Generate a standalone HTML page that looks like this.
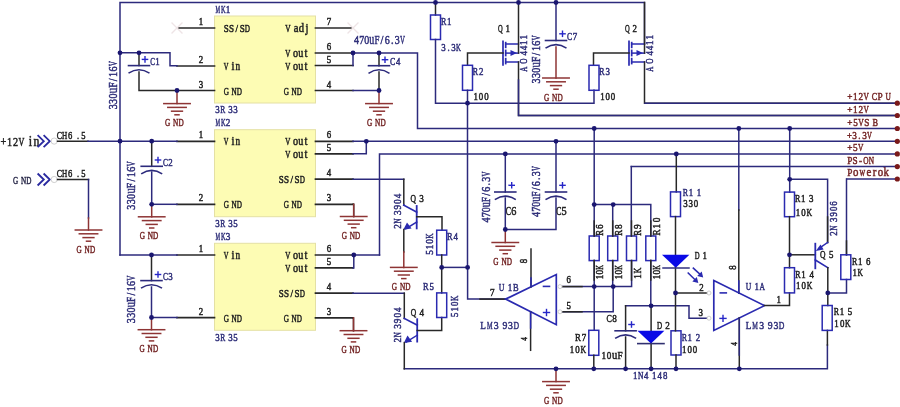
<!DOCTYPE html>
<html><head><meta charset="utf-8"><style>
html,body{margin:0;padding:0;background:#fff;}
body{width:900px;height:407px;overflow:hidden;font-family:"Liberation Serif",serif;}
svg{display:block;will-change:transform;}
</style></head><body>
<svg width="900" height="407" viewBox="0 0 900 407" shape-rendering="geometricPrecision">
<rect x="0" y="0" width="900" height="407" fill="#ffffff"/>
<rect x="214.5" y="16" width="101.0" height="87" fill="#fdfcb4" stroke="#e4e0a4" stroke-width="1"/>
<g transform="translate(214.8,12.5)" font-family="Liberation Serif" fill="#30307a" stroke="#30307a" stroke-width="0.5" text-anchor="middle"><text transform="translate(3.05,0) scale(0.474,1)" font-size="10.92">M</text><text transform="translate(8.45,0) scale(0.584,1)" font-size="10.92">K</text><text transform="translate(13.15,0) scale(0.843,1)" font-size="10.92">1</text></g>
<g transform="translate(215,113.3)" font-family="Liberation Serif" fill="#30307a" stroke="#30307a" stroke-width="0.5" text-anchor="middle"><text transform="translate(2.56,0) scale(0.860,1)" font-size="10.30">3</text><text transform="translate(7.67,0) scale(0.729,1)" font-size="10.30">R</text><text transform="translate(15.33,0) scale(0.860,1)" font-size="10.30">3</text><text transform="translate(20.44,0) scale(0.860,1)" font-size="10.30">3</text></g>
<polyline points="177,28 214.5,28" fill="none" stroke="#282828" stroke-width="1.7" stroke-linejoin="miter" stroke-linecap="square"/>
<g transform="translate(198.5,25)" font-family="Liberation Serif" fill="#222222" stroke="#222222" stroke-width="0.5" text-anchor="middle"><text transform="translate(2.50,0) scale(0.860,1)" font-size="10.30">1</text></g>
<g transform="translate(223.6,32)" font-family="Liberation Serif" fill="#222222" stroke="#222222" stroke-width="0.5" text-anchor="middle"><text transform="translate(2.65,0) scale(0.860,1)" font-size="10.51">S</text><text transform="translate(7.95,0) scale(0.860,1)" font-size="10.51">S</text><text transform="translate(13.25,0) scale(0.860,1)" font-size="10.51">/</text><text transform="translate(18.55,0) scale(0.860,1)" font-size="10.51">S</text><text transform="translate(23.85,0) scale(0.685,1)" font-size="10.51">D</text></g>
<polyline points="177,66 214.5,66" fill="none" stroke="#282828" stroke-width="1.7" stroke-linejoin="miter" stroke-linecap="square"/>
<g transform="translate(198.5,63)" font-family="Liberation Serif" fill="#222222" stroke="#222222" stroke-width="0.5" text-anchor="middle"><text transform="translate(2.50,0) scale(0.860,1)" font-size="10.30">2</text></g>
<g transform="translate(223.6,70)" font-family="Liberation Serif" fill="#222222" stroke="#222222" stroke-width="0.5" text-anchor="middle"><text transform="translate(2.37,0) scale(0.613,1)" font-size="10.51">V</text><text transform="translate(9.49,0) scale(0.860,1)" font-size="12.40">i</text><text transform="translate(14.23,0) scale(0.750,1)" font-size="12.40">n</text></g>
<polyline points="177,90.5 214.5,90.5" fill="none" stroke="#282828" stroke-width="1.7" stroke-linejoin="miter" stroke-linecap="square"/>
<g transform="translate(198.5,87.5)" font-family="Liberation Serif" fill="#222222" stroke="#222222" stroke-width="0.5" text-anchor="middle"><text transform="translate(2.50,0) scale(0.860,1)" font-size="10.30">3</text></g>
<g transform="translate(223.6,94.5)" font-family="Liberation Serif" fill="#222222" stroke="#222222" stroke-width="0.5" text-anchor="middle"><text transform="translate(2.64,0) scale(0.683,1)" font-size="10.51">G</text><text transform="translate(10.57,0) scale(0.683,1)" font-size="10.51">N</text><text transform="translate(15.86,0) scale(0.683,1)" font-size="10.51">D</text></g>
<polyline points="315.5,28 353,28" fill="none" stroke="#282828" stroke-width="1.7" stroke-linejoin="miter" stroke-linecap="square"/>
<g transform="translate(326.5,25)" font-family="Liberation Serif" fill="#222222" stroke="#222222" stroke-width="0.5" text-anchor="middle"><text transform="translate(2.50,0) scale(0.860,1)" font-size="10.30">7</text></g>
<g transform="translate(285.2,32)" font-family="Liberation Serif" fill="#222222" stroke="#222222" stroke-width="0.5" text-anchor="middle"><text transform="translate(2.71,0) scale(0.700,1)" font-size="10.51">V</text><text transform="translate(10.84,0) scale(0.860,1)" font-size="12.40">a</text><text transform="translate(16.27,0) scale(0.857,1)" font-size="12.40">d</text><text transform="translate(21.69,0) scale(0.860,1)" font-size="12.40">j</text></g>
<polyline points="315.5,53 353,53" fill="none" stroke="#282828" stroke-width="1.7" stroke-linejoin="miter" stroke-linecap="square"/>
<g transform="translate(326.5,50)" font-family="Liberation Serif" fill="#222222" stroke="#222222" stroke-width="0.5" text-anchor="middle"><text transform="translate(2.50,0) scale(0.860,1)" font-size="10.30">6</text></g>
<g transform="translate(285.2,57)" font-family="Liberation Serif" fill="#222222" stroke="#222222" stroke-width="0.5" text-anchor="middle"><text transform="translate(2.59,0) scale(0.669,1)" font-size="10.51">V</text><text transform="translate(10.36,0) scale(0.819,1)" font-size="12.40">o</text><text transform="translate(15.53,0) scale(0.819,1)" font-size="12.40">u</text><text transform="translate(20.71,0) scale(0.860,1)" font-size="12.40">t</text></g>
<polyline points="315.5,65.5 353,65.5" fill="none" stroke="#282828" stroke-width="1.7" stroke-linejoin="miter" stroke-linecap="square"/>
<g transform="translate(326.5,62.5)" font-family="Liberation Serif" fill="#222222" stroke="#222222" stroke-width="0.5" text-anchor="middle"><text transform="translate(2.50,0) scale(0.860,1)" font-size="10.30">5</text></g>
<g transform="translate(285.2,69.5)" font-family="Liberation Serif" fill="#222222" stroke="#222222" stroke-width="0.5" text-anchor="middle"><text transform="translate(2.59,0) scale(0.669,1)" font-size="10.51">V</text><text transform="translate(10.36,0) scale(0.819,1)" font-size="12.40">o</text><text transform="translate(15.53,0) scale(0.819,1)" font-size="12.40">u</text><text transform="translate(20.71,0) scale(0.860,1)" font-size="12.40">t</text></g>
<polyline points="315.5,90.5 353,90.5" fill="none" stroke="#282828" stroke-width="1.7" stroke-linejoin="miter" stroke-linecap="square"/>
<g transform="translate(326.5,87.5)" font-family="Liberation Serif" fill="#222222" stroke="#222222" stroke-width="0.5" text-anchor="middle"><text transform="translate(2.50,0) scale(0.860,1)" font-size="10.30">4</text></g>
<g transform="translate(283.6,94.5)" font-family="Liberation Serif" fill="#222222" stroke="#222222" stroke-width="0.5" text-anchor="middle"><text transform="translate(2.64,0) scale(0.683,1)" font-size="10.51">G</text><text transform="translate(10.57,0) scale(0.683,1)" font-size="10.51">N</text><text transform="translate(15.86,0) scale(0.683,1)" font-size="10.51">D</text></g>
<rect x="214.5" y="129.7" width="101.0" height="87.0" fill="#fdfcb4" stroke="#e4e0a4" stroke-width="1"/>
<g transform="translate(214.8,126.19999999999999)" font-family="Liberation Serif" fill="#30307a" stroke="#30307a" stroke-width="0.5" text-anchor="middle"><text transform="translate(3.05,0) scale(0.474,1)" font-size="10.92">M</text><text transform="translate(8.45,0) scale(0.584,1)" font-size="10.92">K</text><text transform="translate(13.15,0) scale(0.843,1)" font-size="10.92">2</text></g>
<g transform="translate(215,227.0)" font-family="Liberation Serif" fill="#30307a" stroke="#30307a" stroke-width="0.5" text-anchor="middle"><text transform="translate(2.56,0) scale(0.860,1)" font-size="10.30">3</text><text transform="translate(7.67,0) scale(0.729,1)" font-size="10.30">R</text><text transform="translate(15.33,0) scale(0.860,1)" font-size="10.30">3</text><text transform="translate(20.44,0) scale(0.860,1)" font-size="10.30">5</text></g>
<polyline points="177,141.29999999999998 214.5,141.29999999999998" fill="none" stroke="#282828" stroke-width="1.7" stroke-linejoin="miter" stroke-linecap="square"/>
<g transform="translate(198.5,138.29999999999998)" font-family="Liberation Serif" fill="#222222" stroke="#222222" stroke-width="0.5" text-anchor="middle"><text transform="translate(2.50,0) scale(0.860,1)" font-size="10.30">1</text></g>
<g transform="translate(223.6,145.29999999999998)" font-family="Liberation Serif" fill="#222222" stroke="#222222" stroke-width="0.5" text-anchor="middle"><text transform="translate(2.37,0) scale(0.613,1)" font-size="10.51">V</text><text transform="translate(9.49,0) scale(0.860,1)" font-size="12.40">i</text><text transform="translate(14.23,0) scale(0.750,1)" font-size="12.40">n</text></g>
<polyline points="177,204.29999999999998 214.5,204.29999999999998" fill="none" stroke="#282828" stroke-width="1.7" stroke-linejoin="miter" stroke-linecap="square"/>
<g transform="translate(198.5,201.29999999999998)" font-family="Liberation Serif" fill="#222222" stroke="#222222" stroke-width="0.5" text-anchor="middle"><text transform="translate(2.50,0) scale(0.860,1)" font-size="10.30">2</text></g>
<g transform="translate(223.6,208.29999999999998)" font-family="Liberation Serif" fill="#222222" stroke="#222222" stroke-width="0.5" text-anchor="middle"><text transform="translate(2.64,0) scale(0.683,1)" font-size="10.51">G</text><text transform="translate(10.57,0) scale(0.683,1)" font-size="10.51">N</text><text transform="translate(15.86,0) scale(0.683,1)" font-size="10.51">D</text></g>
<polyline points="315.5,141.29999999999998 353,141.29999999999998" fill="none" stroke="#282828" stroke-width="1.7" stroke-linejoin="miter" stroke-linecap="square"/>
<g transform="translate(326.5,138.29999999999998)" font-family="Liberation Serif" fill="#222222" stroke="#222222" stroke-width="0.5" text-anchor="middle"><text transform="translate(2.50,0) scale(0.860,1)" font-size="10.30">6</text></g>
<g transform="translate(285.2,145.29999999999998)" font-family="Liberation Serif" fill="#222222" stroke="#222222" stroke-width="0.5" text-anchor="middle"><text transform="translate(2.59,0) scale(0.669,1)" font-size="10.51">V</text><text transform="translate(10.36,0) scale(0.819,1)" font-size="12.40">o</text><text transform="translate(15.53,0) scale(0.819,1)" font-size="12.40">u</text><text transform="translate(20.71,0) scale(0.860,1)" font-size="12.40">t</text></g>
<polyline points="315.5,153.79999999999998 353,153.79999999999998" fill="none" stroke="#282828" stroke-width="1.7" stroke-linejoin="miter" stroke-linecap="square"/>
<g transform="translate(326.5,150.79999999999998)" font-family="Liberation Serif" fill="#222222" stroke="#222222" stroke-width="0.5" text-anchor="middle"><text transform="translate(2.50,0) scale(0.860,1)" font-size="10.30">5</text></g>
<g transform="translate(285.2,157.79999999999998)" font-family="Liberation Serif" fill="#222222" stroke="#222222" stroke-width="0.5" text-anchor="middle"><text transform="translate(2.59,0) scale(0.669,1)" font-size="10.51">V</text><text transform="translate(10.36,0) scale(0.819,1)" font-size="12.40">o</text><text transform="translate(15.53,0) scale(0.819,1)" font-size="12.40">u</text><text transform="translate(20.71,0) scale(0.860,1)" font-size="12.40">t</text></g>
<polyline points="315.5,179.2 353,179.2" fill="none" stroke="#282828" stroke-width="1.7" stroke-linejoin="miter" stroke-linecap="square"/>
<g transform="translate(326.5,176.2)" font-family="Liberation Serif" fill="#222222" stroke="#222222" stroke-width="0.5" text-anchor="middle"><text transform="translate(2.50,0) scale(0.860,1)" font-size="10.30">4</text></g>
<g transform="translate(278.5,183.2)" font-family="Liberation Serif" fill="#222222" stroke="#222222" stroke-width="0.5" text-anchor="middle"><text transform="translate(2.65,0) scale(0.860,1)" font-size="10.51">S</text><text transform="translate(7.95,0) scale(0.860,1)" font-size="10.51">S</text><text transform="translate(13.25,0) scale(0.860,1)" font-size="10.51">/</text><text transform="translate(18.55,0) scale(0.860,1)" font-size="10.51">S</text><text transform="translate(23.85,0) scale(0.685,1)" font-size="10.51">D</text></g>
<polyline points="315.5,204.29999999999998 353,204.29999999999998" fill="none" stroke="#282828" stroke-width="1.7" stroke-linejoin="miter" stroke-linecap="square"/>
<g transform="translate(326.5,201.29999999999998)" font-family="Liberation Serif" fill="#222222" stroke="#222222" stroke-width="0.5" text-anchor="middle"><text transform="translate(2.50,0) scale(0.860,1)" font-size="10.30">3</text></g>
<g transform="translate(283.6,208.29999999999998)" font-family="Liberation Serif" fill="#222222" stroke="#222222" stroke-width="0.5" text-anchor="middle"><text transform="translate(2.64,0) scale(0.683,1)" font-size="10.51">G</text><text transform="translate(10.57,0) scale(0.683,1)" font-size="10.51">N</text><text transform="translate(15.86,0) scale(0.683,1)" font-size="10.51">D</text></g>
<rect x="214.5" y="243.3" width="101.0" height="87.0" fill="#fdfcb4" stroke="#e4e0a4" stroke-width="1"/>
<g transform="translate(214.8,239.8)" font-family="Liberation Serif" fill="#30307a" stroke="#30307a" stroke-width="0.5" text-anchor="middle"><text transform="translate(3.05,0) scale(0.474,1)" font-size="10.92">M</text><text transform="translate(8.45,0) scale(0.584,1)" font-size="10.92">K</text><text transform="translate(13.15,0) scale(0.843,1)" font-size="10.92">3</text></g>
<g transform="translate(215,340.6)" font-family="Liberation Serif" fill="#30307a" stroke="#30307a" stroke-width="0.5" text-anchor="middle"><text transform="translate(2.56,0) scale(0.860,1)" font-size="10.30">3</text><text transform="translate(7.67,0) scale(0.729,1)" font-size="10.30">R</text><text transform="translate(15.33,0) scale(0.860,1)" font-size="10.30">3</text><text transform="translate(20.44,0) scale(0.860,1)" font-size="10.30">5</text></g>
<polyline points="177,255.0 214.5,255.0" fill="none" stroke="#282828" stroke-width="1.7" stroke-linejoin="miter" stroke-linecap="square"/>
<g transform="translate(198.5,252.0)" font-family="Liberation Serif" fill="#222222" stroke="#222222" stroke-width="0.5" text-anchor="middle"><text transform="translate(2.50,0) scale(0.860,1)" font-size="10.30">1</text></g>
<g transform="translate(223.6,259.0)" font-family="Liberation Serif" fill="#222222" stroke="#222222" stroke-width="0.5" text-anchor="middle"><text transform="translate(2.37,0) scale(0.613,1)" font-size="10.51">V</text><text transform="translate(9.49,0) scale(0.860,1)" font-size="12.40">i</text><text transform="translate(14.23,0) scale(0.750,1)" font-size="12.40">n</text></g>
<polyline points="177,317.70000000000005 214.5,317.70000000000005" fill="none" stroke="#282828" stroke-width="1.7" stroke-linejoin="miter" stroke-linecap="square"/>
<g transform="translate(198.5,314.70000000000005)" font-family="Liberation Serif" fill="#222222" stroke="#222222" stroke-width="0.5" text-anchor="middle"><text transform="translate(2.50,0) scale(0.860,1)" font-size="10.30">2</text></g>
<g transform="translate(223.6,321.70000000000005)" font-family="Liberation Serif" fill="#222222" stroke="#222222" stroke-width="0.5" text-anchor="middle"><text transform="translate(2.64,0) scale(0.683,1)" font-size="10.51">G</text><text transform="translate(10.57,0) scale(0.683,1)" font-size="10.51">N</text><text transform="translate(15.86,0) scale(0.683,1)" font-size="10.51">D</text></g>
<polyline points="315.5,255.0 353,255.0" fill="none" stroke="#282828" stroke-width="1.7" stroke-linejoin="miter" stroke-linecap="square"/>
<g transform="translate(326.5,252.0)" font-family="Liberation Serif" fill="#222222" stroke="#222222" stroke-width="0.5" text-anchor="middle"><text transform="translate(2.50,0) scale(0.860,1)" font-size="10.30">6</text></g>
<g transform="translate(285.2,259.0)" font-family="Liberation Serif" fill="#222222" stroke="#222222" stroke-width="0.5" text-anchor="middle"><text transform="translate(2.59,0) scale(0.669,1)" font-size="10.51">V</text><text transform="translate(10.36,0) scale(0.819,1)" font-size="12.40">o</text><text transform="translate(15.53,0) scale(0.819,1)" font-size="12.40">u</text><text transform="translate(20.71,0) scale(0.860,1)" font-size="12.40">t</text></g>
<polyline points="315.5,267.8 353,267.8" fill="none" stroke="#282828" stroke-width="1.7" stroke-linejoin="miter" stroke-linecap="square"/>
<g transform="translate(326.5,264.8)" font-family="Liberation Serif" fill="#222222" stroke="#222222" stroke-width="0.5" text-anchor="middle"><text transform="translate(2.50,0) scale(0.860,1)" font-size="10.30">5</text></g>
<g transform="translate(285.2,271.8)" font-family="Liberation Serif" fill="#222222" stroke="#222222" stroke-width="0.5" text-anchor="middle"><text transform="translate(2.59,0) scale(0.669,1)" font-size="10.51">V</text><text transform="translate(10.36,0) scale(0.819,1)" font-size="12.40">o</text><text transform="translate(15.53,0) scale(0.819,1)" font-size="12.40">u</text><text transform="translate(20.71,0) scale(0.860,1)" font-size="12.40">t</text></g>
<polyline points="315.5,293.1 353,293.1" fill="none" stroke="#282828" stroke-width="1.7" stroke-linejoin="miter" stroke-linecap="square"/>
<g transform="translate(326.5,290.1)" font-family="Liberation Serif" fill="#222222" stroke="#222222" stroke-width="0.5" text-anchor="middle"><text transform="translate(2.50,0) scale(0.860,1)" font-size="10.30">4</text></g>
<g transform="translate(278.5,297.1)" font-family="Liberation Serif" fill="#222222" stroke="#222222" stroke-width="0.5" text-anchor="middle"><text transform="translate(2.65,0) scale(0.860,1)" font-size="10.51">S</text><text transform="translate(7.95,0) scale(0.860,1)" font-size="10.51">S</text><text transform="translate(13.25,0) scale(0.860,1)" font-size="10.51">/</text><text transform="translate(18.55,0) scale(0.860,1)" font-size="10.51">S</text><text transform="translate(23.85,0) scale(0.685,1)" font-size="10.51">D</text></g>
<polyline points="315.5,317.9 353,317.9" fill="none" stroke="#282828" stroke-width="1.7" stroke-linejoin="miter" stroke-linecap="square"/>
<g transform="translate(326.5,314.9)" font-family="Liberation Serif" fill="#222222" stroke="#222222" stroke-width="0.5" text-anchor="middle"><text transform="translate(2.50,0) scale(0.860,1)" font-size="10.30">3</text></g>
<g transform="translate(283.6,321.9)" font-family="Liberation Serif" fill="#222222" stroke="#222222" stroke-width="0.5" text-anchor="middle"><text transform="translate(2.64,0) scale(0.683,1)" font-size="10.51">G</text><text transform="translate(10.57,0) scale(0.683,1)" font-size="10.51">N</text><text transform="translate(15.86,0) scale(0.683,1)" font-size="10.51">D</text></g>
<polyline points="172,23 182,33" fill="none" stroke="#eee4e6" stroke-width="1.3" stroke-linejoin="miter" stroke-linecap="square"/>
<polyline points="172,33 182,23" fill="none" stroke="#eee4e6" stroke-width="1.3" stroke-linejoin="miter" stroke-linecap="square"/>
<polyline points="348,23 358,33" fill="none" stroke="#eee4e6" stroke-width="1.3" stroke-linejoin="miter" stroke-linecap="square"/>
<polyline points="348,33 358,23" fill="none" stroke="#eee4e6" stroke-width="1.3" stroke-linejoin="miter" stroke-linecap="square"/>
<polyline points="120,255 120,2.5 644.5,2.5 644.5,44" fill="none" stroke="#2c2a7c" stroke-width="1.5" stroke-linejoin="miter" stroke-linecap="square"/>
<polyline points="120,52.8 170,52.8 170,65.8 177,65.8" fill="none" stroke="#2c2a7c" stroke-width="1.5" stroke-linejoin="miter" stroke-linecap="square"/>
<polyline points="139,52.8 139,65.6" fill="none" stroke="#282828" stroke-width="1.5" stroke-linejoin="miter" stroke-linecap="square"/>
<polyline points="128.5,65.6 149.5,65.6" fill="none" stroke="#2c2a7c" stroke-width="1.6" stroke-linejoin="miter" stroke-linecap="square"/>
<path d="M128.5,73.19999999999999 Q139,66.19999999999999 149.5,73.19999999999999" fill="none" stroke="#2c2a7c" stroke-width="1.6"/>
<polyline points="139,72 139,90.5 177,90.5" fill="none" stroke="#282828" stroke-width="1.5" stroke-linejoin="miter" stroke-linecap="square"/>
<polyline points="177,90.5 177,103.6" fill="none" stroke="#8e3434" stroke-width="1.5" stroke-linejoin="miter" stroke-linecap="square"/>
<polyline points="163.8,103.6 190.2,103.6" fill="none" stroke="#8e3434" stroke-width="1.5" stroke-linejoin="miter" stroke-linecap="square"/>
<polyline points="167.8,107.39999999999999 186.2,107.39999999999999" fill="none" stroke="#8e3434" stroke-width="1.5" stroke-linejoin="miter" stroke-linecap="square"/>
<polyline points="171.6,111.19999999999999 182.4,111.19999999999999" fill="none" stroke="#8e3434" stroke-width="1.5" stroke-linejoin="miter" stroke-linecap="square"/>
<polyline points="175,114.8 179,114.8" fill="none" stroke="#8e3434" stroke-width="1.5" stroke-linejoin="miter" stroke-linecap="square"/>
<g transform="translate(165,126.19999999999999)" font-family="Liberation Serif" fill="#742626" stroke="#742626" stroke-width="0.5" text-anchor="middle"><text transform="translate(2.67,0) scale(0.690,1)" font-size="10.51">G</text><text transform="translate(10.69,0) scale(0.690,1)" font-size="10.51">N</text><text transform="translate(16.03,0) scale(0.690,1)" font-size="10.51">D</text></g>
<polyline points="142.4,59.4 147.6,59.4" fill="none" stroke="#2626c8" stroke-width="1.4" stroke-linejoin="miter" stroke-linecap="square"/>
<polyline points="145,56.8 145,62.0" fill="none" stroke="#2626c8" stroke-width="1.4" stroke-linejoin="miter" stroke-linecap="square"/>
<g transform="translate(150.3,65)" font-family="Liberation Serif" fill="#30307a" stroke="#30307a" stroke-width="0.5" text-anchor="middle"><text transform="translate(2.40,0) scale(0.685,1)" font-size="10.30">C</text><text transform="translate(7.20,0) scale(0.860,1)" font-size="10.30">1</text></g>
<g transform="translate(117.2,109.5) rotate(-90)" font-family="Liberation Serif" fill="#30307a" stroke="#30307a" stroke-width="0.5" text-anchor="middle"><text transform="translate(2.70,0) scale(0.860,1)" font-size="11.74">3</text><text transform="translate(8.10,0) scale(0.860,1)" font-size="11.74">3</text><text transform="translate(13.50,0) scale(0.860,1)" font-size="11.74">0</text><text transform="translate(18.90,0) scale(0.764,1)" font-size="13.86">u</text><text transform="translate(24.30,0) scale(0.810,1)" font-size="11.74">F</text><text transform="translate(29.70,0) scale(0.860,1)" font-size="11.74">/</text><text transform="translate(35.10,0) scale(0.860,1)" font-size="11.74">1</text><text transform="translate(40.50,0) scale(0.860,1)" font-size="11.74">6</text><text transform="translate(45.90,0) scale(0.624,1)" font-size="11.74">V</text></g>
<polyline points="353,53 353,65.5" fill="none" stroke="#2c2a7c" stroke-width="1.5" stroke-linejoin="miter" stroke-linecap="square"/>
<polyline points="353,53 417.5,53 417.5,128.5 897,128.5" fill="none" stroke="#2c2a7c" stroke-width="1.5" stroke-linejoin="miter" stroke-linecap="square"/>
<polyline points="379,53 379,65.7" fill="none" stroke="#282828" stroke-width="1.5" stroke-linejoin="miter" stroke-linecap="square"/>
<polyline points="368.5,65.7 389.5,65.7" fill="none" stroke="#2c2a7c" stroke-width="1.6" stroke-linejoin="miter" stroke-linecap="square"/>
<path d="M368.5,73.3 Q379,66.3 389.5,73.3" fill="none" stroke="#2c2a7c" stroke-width="1.6"/>
<polyline points="379,72 379,90.9" fill="none" stroke="#282828" stroke-width="1.5" stroke-linejoin="miter" stroke-linecap="square"/>
<polyline points="353,90.5 379,90.5" fill="none" stroke="#2c2a7c" stroke-width="1.5" stroke-linejoin="miter" stroke-linecap="square"/>
<polyline points="379,90.5 379,103.6" fill="none" stroke="#8e3434" stroke-width="1.5" stroke-linejoin="miter" stroke-linecap="square"/>
<polyline points="365.8,103.6 392.2,103.6" fill="none" stroke="#8e3434" stroke-width="1.5" stroke-linejoin="miter" stroke-linecap="square"/>
<polyline points="369.8,107.39999999999999 388.2,107.39999999999999" fill="none" stroke="#8e3434" stroke-width="1.5" stroke-linejoin="miter" stroke-linecap="square"/>
<polyline points="373.6,111.19999999999999 384.4,111.19999999999999" fill="none" stroke="#8e3434" stroke-width="1.5" stroke-linejoin="miter" stroke-linecap="square"/>
<polyline points="377,114.8 381,114.8" fill="none" stroke="#8e3434" stroke-width="1.5" stroke-linejoin="miter" stroke-linecap="square"/>
<g transform="translate(367,126.19999999999999)" font-family="Liberation Serif" fill="#742626" stroke="#742626" stroke-width="0.5" text-anchor="middle"><text transform="translate(2.67,0) scale(0.690,1)" font-size="10.51">G</text><text transform="translate(10.69,0) scale(0.690,1)" font-size="10.51">N</text><text transform="translate(16.03,0) scale(0.690,1)" font-size="10.51">D</text></g>
<polyline points="382.4,59.7 387.6,59.7" fill="none" stroke="#2626c8" stroke-width="1.4" stroke-linejoin="miter" stroke-linecap="square"/>
<polyline points="385,57.1 385,62.300000000000004" fill="none" stroke="#2626c8" stroke-width="1.4" stroke-linejoin="miter" stroke-linecap="square"/>
<g transform="translate(390,65.3)" font-family="Liberation Serif" fill="#30307a" stroke="#30307a" stroke-width="0.5" text-anchor="middle"><text transform="translate(2.70,0) scale(0.770,1)" font-size="10.30">C</text><text transform="translate(8.10,0) scale(0.860,1)" font-size="10.30">4</text></g>
<g transform="translate(354,43.6)" font-family="Liberation Serif" fill="#30307a" stroke="#30307a" stroke-width="0.5" text-anchor="middle"><text transform="translate(2.55,0) scale(0.822,1)" font-size="12.15">4</text><text transform="translate(7.65,0) scale(0.822,1)" font-size="12.15">7</text><text transform="translate(12.75,0) scale(0.822,1)" font-size="12.15">0</text><text transform="translate(17.85,0) scale(0.697,1)" font-size="14.34">u</text><text transform="translate(22.95,0) scale(0.739,1)" font-size="12.15">F</text><text transform="translate(28.05,0) scale(0.860,1)" font-size="12.15">/</text><text transform="translate(33.15,0) scale(0.822,1)" font-size="12.15">6</text><text transform="translate(38.25,0) scale(0.860,1)" font-size="12.15">.</text><text transform="translate(43.35,0) scale(0.822,1)" font-size="12.15">3</text><text transform="translate(48.45,0) scale(0.569,1)" font-size="12.15">V</text></g>
<g transform="translate(0.5,145.6)" font-family="Liberation Serif" fill="#222222" stroke="#222222" stroke-width="0.5" text-anchor="middle"><text transform="translate(2.99,0) scale(0.860,1)" font-size="11.85">+</text><text transform="translate(8.98,0) scale(0.860,1)" font-size="11.85">1</text><text transform="translate(14.96,0) scale(0.860,1)" font-size="11.85">2</text><text transform="translate(20.95,0) scale(0.686,1)" font-size="11.85">V</text><text transform="translate(29.92,0) scale(0.860,1)" font-size="13.98">i</text><text transform="translate(35.91,0) scale(0.839,1)" font-size="13.98">n</text></g>
<polyline points="37.6,135.2 43.8,141.2 37.6,147.2" fill="none" stroke="#2a2aa0" stroke-width="1.8" stroke-linejoin="miter" stroke-linecap="butt"/>
<polyline points="43.6,135.2 49.8,141.2 43.6,147.2" fill="none" stroke="#2a2aa0" stroke-width="1.8" stroke-linejoin="miter" stroke-linecap="butt"/>
<circle cx="54.2" cy="141.1" r="3.1" fill="#fff" stroke="#d0d0d0" stroke-width="1"/>
<g transform="translate(56.7,139.1)" font-family="Liberation Serif" fill="#222222" stroke="#222222" stroke-width="0.5" text-anchor="middle"><text transform="translate(2.67,0) scale(0.794,1)" font-size="9.89">C</text><text transform="translate(8.02,0) scale(0.734,1)" font-size="9.89">H</text><text transform="translate(13.36,0) scale(0.860,1)" font-size="9.89">6</text><text transform="translate(21.38,0) scale(0.860,1)" font-size="9.89">.</text><text transform="translate(26.73,0) scale(0.860,1)" font-size="9.89">5</text></g>
<polyline points="57.5,141.2 88,141.2" fill="none" stroke="#282828" stroke-width="1.5" stroke-linejoin="miter" stroke-linecap="square"/>
<polyline points="88,141.2 177,141.2" fill="none" stroke="#2c2a7c" stroke-width="1.5" stroke-linejoin="miter" stroke-linecap="square"/>
<g transform="translate(13,183.7)" font-family="Liberation Serif" fill="#2a2a4a" stroke="#2a2a4a" stroke-width="0.5" text-anchor="middle"><text transform="translate(2.63,0) scale(0.653,1)" font-size="10.92">G</text><text transform="translate(10.51,0) scale(0.653,1)" font-size="10.92">N</text><text transform="translate(15.77,0) scale(0.653,1)" font-size="10.92">D</text></g>
<polyline points="37.6,173.5 43.8,179.5 37.6,185.5" fill="none" stroke="#2a2aa0" stroke-width="1.8" stroke-linejoin="miter" stroke-linecap="butt"/>
<polyline points="43.6,173.5 49.8,179.5 43.6,185.5" fill="none" stroke="#2a2aa0" stroke-width="1.8" stroke-linejoin="miter" stroke-linecap="butt"/>
<circle cx="54.2" cy="179.5" r="3.1" fill="#fff" stroke="#d0d0d0" stroke-width="1"/>
<g transform="translate(56.7,176.6)" font-family="Liberation Serif" fill="#222222" stroke="#222222" stroke-width="0.5" text-anchor="middle"><text transform="translate(2.67,0) scale(0.794,1)" font-size="9.89">C</text><text transform="translate(8.02,0) scale(0.734,1)" font-size="9.89">H</text><text transform="translate(13.36,0) scale(0.860,1)" font-size="9.89">6</text><text transform="translate(21.38,0) scale(0.860,1)" font-size="9.89">.</text><text transform="translate(26.73,0) scale(0.860,1)" font-size="9.89">5</text></g>
<polyline points="57.5,179.5 88.5,179.5" fill="none" stroke="#282828" stroke-width="1.5" stroke-linejoin="miter" stroke-linecap="square"/>
<polyline points="88.5,179.5 88.5,218" fill="none" stroke="#2c2a7c" stroke-width="1.5" stroke-linejoin="miter" stroke-linecap="square"/>
<polyline points="88.5,218 88.5,230" fill="none" stroke="#8e3434" stroke-width="1.5" stroke-linejoin="miter" stroke-linecap="square"/>
<polyline points="75.3,230 101.7,230" fill="none" stroke="#8e3434" stroke-width="1.5" stroke-linejoin="miter" stroke-linecap="square"/>
<polyline points="79.3,233.8 97.7,233.8" fill="none" stroke="#8e3434" stroke-width="1.5" stroke-linejoin="miter" stroke-linecap="square"/>
<polyline points="83.1,237.6 93.9,237.6" fill="none" stroke="#8e3434" stroke-width="1.5" stroke-linejoin="miter" stroke-linecap="square"/>
<polyline points="86.5,241.2 90.5,241.2" fill="none" stroke="#8e3434" stroke-width="1.5" stroke-linejoin="miter" stroke-linecap="square"/>
<g transform="translate(76.5,252.6)" font-family="Liberation Serif" fill="#742626" stroke="#742626" stroke-width="0.5" text-anchor="middle"><text transform="translate(2.67,0) scale(0.690,1)" font-size="10.51">G</text><text transform="translate(10.69,0) scale(0.690,1)" font-size="10.51">N</text><text transform="translate(16.03,0) scale(0.690,1)" font-size="10.51">D</text></g>
<polyline points="151.7,141.2 151.7,166.3" fill="none" stroke="#282828" stroke-width="1.5" stroke-linejoin="miter" stroke-linecap="square"/>
<polyline points="141.2,166.3 162.2,166.3" fill="none" stroke="#2c2a7c" stroke-width="1.6" stroke-linejoin="miter" stroke-linecap="square"/>
<path d="M141.2,173.9 Q151.7,166.9 162.2,173.9" fill="none" stroke="#2c2a7c" stroke-width="1.6"/>
<polyline points="151.7,172 151.7,204.3" fill="none" stroke="#2c2a7c" stroke-width="1.5" stroke-linejoin="miter" stroke-linecap="square"/>
<polyline points="151.7,204.3 177,204.3" fill="none" stroke="#2c2a7c" stroke-width="1.5" stroke-linejoin="miter" stroke-linecap="square"/>
<polyline points="151.7,204.3 151.7,216.8" fill="none" stroke="#8e3434" stroke-width="1.5" stroke-linejoin="miter" stroke-linecap="square"/>
<polyline points="138.5,216.8 164.89999999999998,216.8" fill="none" stroke="#8e3434" stroke-width="1.5" stroke-linejoin="miter" stroke-linecap="square"/>
<polyline points="142.5,220.60000000000002 160.89999999999998,220.60000000000002" fill="none" stroke="#8e3434" stroke-width="1.5" stroke-linejoin="miter" stroke-linecap="square"/>
<polyline points="146.29999999999998,224.4 157.1,224.4" fill="none" stroke="#8e3434" stroke-width="1.5" stroke-linejoin="miter" stroke-linecap="square"/>
<polyline points="149.7,228.0 153.7,228.0" fill="none" stroke="#8e3434" stroke-width="1.5" stroke-linejoin="miter" stroke-linecap="square"/>
<g transform="translate(139.7,239.4)" font-family="Liberation Serif" fill="#742626" stroke="#742626" stroke-width="0.5" text-anchor="middle"><text transform="translate(2.67,0) scale(0.690,1)" font-size="10.51">G</text><text transform="translate(10.69,0) scale(0.690,1)" font-size="10.51">N</text><text transform="translate(16.03,0) scale(0.690,1)" font-size="10.51">D</text></g>
<polyline points="155.4,160 160.6,160" fill="none" stroke="#2626c8" stroke-width="1.4" stroke-linejoin="miter" stroke-linecap="square"/>
<polyline points="158,157.4 158,162.6" fill="none" stroke="#2626c8" stroke-width="1.4" stroke-linejoin="miter" stroke-linecap="square"/>
<g transform="translate(163,166)" font-family="Liberation Serif" fill="#30307a" stroke="#30307a" stroke-width="0.5" text-anchor="middle"><text transform="translate(2.50,0) scale(0.713,1)" font-size="10.30">C</text><text transform="translate(7.50,0) scale(0.860,1)" font-size="10.30">2</text></g>
<g transform="translate(135.2,209.9) rotate(-90)" font-family="Liberation Serif" fill="#30307a" stroke="#30307a" stroke-width="0.5" text-anchor="middle"><text transform="translate(2.71,0) scale(0.860,1)" font-size="11.74">3</text><text transform="translate(8.12,0) scale(0.860,1)" font-size="11.74">3</text><text transform="translate(13.53,0) scale(0.860,1)" font-size="11.74">0</text><text transform="translate(18.94,0) scale(0.765,1)" font-size="13.86">u</text><text transform="translate(24.35,0) scale(0.812,1)" font-size="11.74">F</text><text transform="translate(29.76,0) scale(0.860,1)" font-size="11.74">/</text><text transform="translate(35.17,0) scale(0.860,1)" font-size="11.74">1</text><text transform="translate(40.58,0) scale(0.860,1)" font-size="11.74">6</text><text transform="translate(45.99,0) scale(0.625,1)" font-size="11.74">V</text></g>
<polyline points="120,255 177,255" fill="none" stroke="#2c2a7c" stroke-width="1.5" stroke-linejoin="miter" stroke-linecap="square"/>
<polyline points="151.5,255 151.5,280.6" fill="none" stroke="#282828" stroke-width="1.5" stroke-linejoin="miter" stroke-linecap="square"/>
<polyline points="141.0,280.6 162.0,280.6" fill="none" stroke="#2c2a7c" stroke-width="1.6" stroke-linejoin="miter" stroke-linecap="square"/>
<path d="M141.0,288.20000000000005 Q151.5,281.20000000000005 162.0,288.20000000000005" fill="none" stroke="#2c2a7c" stroke-width="1.6"/>
<polyline points="151.5,287 151.5,317.5" fill="none" stroke="#2c2a7c" stroke-width="1.5" stroke-linejoin="miter" stroke-linecap="square"/>
<polyline points="151.5,317.5 177,317.5" fill="none" stroke="#2c2a7c" stroke-width="1.5" stroke-linejoin="miter" stroke-linecap="square"/>
<polyline points="151.5,317.5 151.5,329.7" fill="none" stroke="#8e3434" stroke-width="1.5" stroke-linejoin="miter" stroke-linecap="square"/>
<polyline points="138.3,329.7 164.7,329.7" fill="none" stroke="#8e3434" stroke-width="1.5" stroke-linejoin="miter" stroke-linecap="square"/>
<polyline points="142.3,333.5 160.7,333.5" fill="none" stroke="#8e3434" stroke-width="1.5" stroke-linejoin="miter" stroke-linecap="square"/>
<polyline points="146.1,337.3 156.9,337.3" fill="none" stroke="#8e3434" stroke-width="1.5" stroke-linejoin="miter" stroke-linecap="square"/>
<polyline points="149.5,340.9 153.5,340.9" fill="none" stroke="#8e3434" stroke-width="1.5" stroke-linejoin="miter" stroke-linecap="square"/>
<g transform="translate(139.5,352.3)" font-family="Liberation Serif" fill="#742626" stroke="#742626" stroke-width="0.5" text-anchor="middle"><text transform="translate(2.67,0) scale(0.690,1)" font-size="10.51">G</text><text transform="translate(10.69,0) scale(0.690,1)" font-size="10.51">N</text><text transform="translate(16.03,0) scale(0.690,1)" font-size="10.51">D</text></g>
<polyline points="155.4,274.5 160.6,274.5" fill="none" stroke="#2626c8" stroke-width="1.4" stroke-linejoin="miter" stroke-linecap="square"/>
<polyline points="158,271.9 158,277.1" fill="none" stroke="#2626c8" stroke-width="1.4" stroke-linejoin="miter" stroke-linecap="square"/>
<g transform="translate(163,280)" font-family="Liberation Serif" fill="#30307a" stroke="#30307a" stroke-width="0.5" text-anchor="middle"><text transform="translate(2.50,0) scale(0.713,1)" font-size="10.30">C</text><text transform="translate(7.50,0) scale(0.860,1)" font-size="10.30">3</text></g>
<g transform="translate(135.2,323.3) rotate(-90)" font-family="Liberation Serif" fill="#30307a" stroke="#30307a" stroke-width="0.5" text-anchor="middle"><text transform="translate(2.66,0) scale(0.860,1)" font-size="11.74">3</text><text transform="translate(7.98,0) scale(0.860,1)" font-size="11.74">3</text><text transform="translate(13.31,0) scale(0.860,1)" font-size="11.74">0</text><text transform="translate(18.63,0) scale(0.753,1)" font-size="13.86">u</text><text transform="translate(23.95,0) scale(0.799,1)" font-size="11.74">F</text><text transform="translate(29.27,0) scale(0.860,1)" font-size="11.74">/</text><text transform="translate(34.59,0) scale(0.860,1)" font-size="11.74">1</text><text transform="translate(39.92,0) scale(0.860,1)" font-size="11.74">6</text><text transform="translate(45.24,0) scale(0.615,1)" font-size="11.74">V</text></g>
<polyline points="353,141.3 897,141.3" fill="none" stroke="#2c2a7c" stroke-width="1.5" stroke-linejoin="miter" stroke-linecap="square"/>
<polyline points="353,153.8 366.3,153.8 366.3,141.3" fill="none" stroke="#2c2a7c" stroke-width="1.5" stroke-linejoin="miter" stroke-linecap="square"/>
<polyline points="379.5,255 379.5,153.9 897,153.9" fill="none" stroke="#2c2a7c" stroke-width="1.5" stroke-linejoin="miter" stroke-linecap="square"/>
<polyline points="353,179.3 403.8,179.3" fill="none" stroke="#2c2a7c" stroke-width="1.5" stroke-linejoin="miter" stroke-linecap="square"/>
<polyline points="403.8,179.3 403.8,205.2" fill="none" stroke="#282828" stroke-width="1.5" stroke-linejoin="miter" stroke-linecap="square"/>
<polyline points="353,204.3 353.7,204.3 353.7,216.5" fill="none" stroke="#282828" stroke-width="1.5" stroke-linejoin="miter" stroke-linecap="square"/>
<polyline points="353.7,204.3 353.7,216.5" fill="none" stroke="#8e3434" stroke-width="1.5" stroke-linejoin="miter" stroke-linecap="square"/>
<polyline points="340.5,216.5 366.9,216.5" fill="none" stroke="#8e3434" stroke-width="1.5" stroke-linejoin="miter" stroke-linecap="square"/>
<polyline points="344.5,220.3 362.9,220.3" fill="none" stroke="#8e3434" stroke-width="1.5" stroke-linejoin="miter" stroke-linecap="square"/>
<polyline points="348.3,224.1 359.09999999999997,224.1" fill="none" stroke="#8e3434" stroke-width="1.5" stroke-linejoin="miter" stroke-linecap="square"/>
<polyline points="351.7,227.7 355.7,227.7" fill="none" stroke="#8e3434" stroke-width="1.5" stroke-linejoin="miter" stroke-linecap="square"/>
<g transform="translate(341.7,239.1)" font-family="Liberation Serif" fill="#742626" stroke="#742626" stroke-width="0.5" text-anchor="middle"><text transform="translate(2.67,0) scale(0.690,1)" font-size="10.51">G</text><text transform="translate(10.69,0) scale(0.690,1)" font-size="10.51">N</text><text transform="translate(16.03,0) scale(0.690,1)" font-size="10.51">D</text></g>
<polyline points="353,255 379.5,255" fill="none" stroke="#2c2a7c" stroke-width="1.5" stroke-linejoin="miter" stroke-linecap="square"/>
<polyline points="353,268 353.8,268 353.8,255" fill="none" stroke="#2c2a7c" stroke-width="1.5" stroke-linejoin="miter" stroke-linecap="square"/>
<polyline points="353,293.2 404.3,293.2" fill="none" stroke="#2c2a7c" stroke-width="1.5" stroke-linejoin="miter" stroke-linecap="square"/>
<polyline points="404.3,293.2 404.3,318.4" fill="none" stroke="#282828" stroke-width="1.5" stroke-linejoin="miter" stroke-linecap="square"/>
<polyline points="353,317.9 353.5,317.9 353.5,330.7" fill="none" stroke="#282828" stroke-width="1.5" stroke-linejoin="miter" stroke-linecap="square"/>
<polyline points="353.5,317.9 353.5,330.7" fill="none" stroke="#8e3434" stroke-width="1.5" stroke-linejoin="miter" stroke-linecap="square"/>
<polyline points="340.3,330.7 366.7,330.7" fill="none" stroke="#8e3434" stroke-width="1.5" stroke-linejoin="miter" stroke-linecap="square"/>
<polyline points="344.3,334.5 362.7,334.5" fill="none" stroke="#8e3434" stroke-width="1.5" stroke-linejoin="miter" stroke-linecap="square"/>
<polyline points="348.1,338.3 358.9,338.3" fill="none" stroke="#8e3434" stroke-width="1.5" stroke-linejoin="miter" stroke-linecap="square"/>
<polyline points="351.5,341.9 355.5,341.9" fill="none" stroke="#8e3434" stroke-width="1.5" stroke-linejoin="miter" stroke-linecap="square"/>
<g transform="translate(341.5,353.3)" font-family="Liberation Serif" fill="#742626" stroke="#742626" stroke-width="0.5" text-anchor="middle"><text transform="translate(2.67,0) scale(0.690,1)" font-size="10.51">G</text><text transform="translate(10.69,0) scale(0.690,1)" font-size="10.51">N</text><text transform="translate(16.03,0) scale(0.690,1)" font-size="10.51">D</text></g>
<polyline points="435.5,2.5 435.5,15" fill="none" stroke="#282828" stroke-width="1.5" stroke-linejoin="miter" stroke-linecap="square"/>
<rect x="430.5" y="15" width="10" height="24.5" fill="none" stroke="#2a2ab0" stroke-width="1.5"/>
<polyline points="435.5,39.5 435.5,103.2 594,103.2 594,90.3" fill="none" stroke="#2c2a7c" stroke-width="1.5" stroke-linejoin="miter" stroke-linecap="square"/>
<g transform="translate(441,24.5)" font-family="Liberation Serif" fill="#30307a" stroke="#30307a" stroke-width="0.5" text-anchor="middle"><text transform="translate(2.75,0) scale(0.785,1)" font-size="10.30">R</text><text transform="translate(8.25,0) scale(0.860,1)" font-size="10.30">1</text></g>
<g transform="translate(441,51)" font-family="Liberation Serif" fill="#30307a" stroke="#30307a" stroke-width="0.5" text-anchor="middle"><text transform="translate(2.50,0) scale(0.860,1)" font-size="10.30">3</text><text transform="translate(7.50,0) scale(0.860,1)" font-size="10.30">.</text><text transform="translate(12.50,0) scale(0.860,1)" font-size="10.30">3</text><text transform="translate(17.50,0) scale(0.659,1)" font-size="10.30">K</text></g>
<polyline points="503.0,41.3 503.0,65" fill="none" stroke="#2a2ab0" stroke-width="1.7" stroke-linejoin="miter" stroke-linecap="square"/>
<polyline points="505.7,41.8 505.7,48.2" fill="none" stroke="#2a2ab0" stroke-width="1.7" stroke-linejoin="miter" stroke-linecap="butt"/>
<polyline points="505.7,49.6 505.7,56.4" fill="none" stroke="#2a2ab0" stroke-width="1.7" stroke-linejoin="miter" stroke-linecap="butt"/>
<polyline points="505.7,57.8 505.7,64.4" fill="none" stroke="#2a2ab0" stroke-width="1.7" stroke-linejoin="miter" stroke-linecap="butt"/>
<polyline points="505.7,44 518.5,44" fill="none" stroke="#2a2ab0" stroke-width="1.5" stroke-linejoin="miter" stroke-linecap="square"/>
<polyline points="505.7,53.1 518.5,53.1" fill="none" stroke="#2a2ab0" stroke-width="1.5" stroke-linejoin="miter" stroke-linecap="square"/>
<polyline points="505.7,62 518.5,62" fill="none" stroke="#2a2ab0" stroke-width="1.5" stroke-linejoin="miter" stroke-linecap="square"/>
<polygon points="510.5,50.1 517.0,53.1 510.5,56.1" fill="#2a2ab0"/>
<polyline points="518.5,2.5 518.5,53.1" fill="none" stroke="#282828" stroke-width="1.5" stroke-linejoin="miter" stroke-linecap="square"/>
<polyline points="503.0,53.1 467.5,53.1 467.5,65.3" fill="none" stroke="#282828" stroke-width="1.5" stroke-linejoin="miter" stroke-linecap="square"/>
<g transform="translate(526.6,71.7) rotate(-90)" font-family="Liberation Serif" fill="#30307a" stroke="#30307a" stroke-width="0.5" text-anchor="middle"><text transform="translate(2.64,0) scale(0.683,1)" font-size="10.51">A</text><text transform="translate(10.57,0) scale(0.683,1)" font-size="10.51">O</text><text transform="translate(18.50,0) scale(0.860,1)" font-size="10.51">4</text><text transform="translate(23.79,0) scale(0.860,1)" font-size="10.51">4</text><text transform="translate(29.07,0) scale(0.860,1)" font-size="10.51">1</text><text transform="translate(34.36,0) scale(0.860,1)" font-size="10.51">1</text></g>
<polyline points="629.0,41.3 629.0,65" fill="none" stroke="#2a2ab0" stroke-width="1.7" stroke-linejoin="miter" stroke-linecap="square"/>
<polyline points="631.7,41.8 631.7,48.2" fill="none" stroke="#2a2ab0" stroke-width="1.7" stroke-linejoin="miter" stroke-linecap="butt"/>
<polyline points="631.7,49.6 631.7,56.4" fill="none" stroke="#2a2ab0" stroke-width="1.7" stroke-linejoin="miter" stroke-linecap="butt"/>
<polyline points="631.7,57.8 631.7,64.4" fill="none" stroke="#2a2ab0" stroke-width="1.7" stroke-linejoin="miter" stroke-linecap="butt"/>
<polyline points="631.7,44 644.5,44" fill="none" stroke="#2a2ab0" stroke-width="1.5" stroke-linejoin="miter" stroke-linecap="square"/>
<polyline points="631.7,53.1 644.5,53.1" fill="none" stroke="#2a2ab0" stroke-width="1.5" stroke-linejoin="miter" stroke-linecap="square"/>
<polyline points="631.7,62 644.5,62" fill="none" stroke="#2a2ab0" stroke-width="1.5" stroke-linejoin="miter" stroke-linecap="square"/>
<polygon points="636.5,50.1 643.0,53.1 636.5,56.1" fill="#2a2ab0"/>
<polyline points="644.5,2.5 644.5,53.1" fill="none" stroke="#282828" stroke-width="1.5" stroke-linejoin="miter" stroke-linecap="square"/>
<polyline points="629.0,53.1 593.5,53.1 593.5,65.3" fill="none" stroke="#282828" stroke-width="1.5" stroke-linejoin="miter" stroke-linecap="square"/>
<g transform="translate(653,71.7) rotate(-90)" font-family="Liberation Serif" fill="#30307a" stroke="#30307a" stroke-width="0.5" text-anchor="middle"><text transform="translate(2.64,0) scale(0.683,1)" font-size="10.51">A</text><text transform="translate(10.57,0) scale(0.683,1)" font-size="10.51">O</text><text transform="translate(18.50,0) scale(0.860,1)" font-size="10.51">4</text><text transform="translate(23.79,0) scale(0.860,1)" font-size="10.51">4</text><text transform="translate(29.07,0) scale(0.860,1)" font-size="10.51">1</text><text transform="translate(34.36,0) scale(0.860,1)" font-size="10.51">1</text></g>
<g transform="translate(498,31.7)" font-family="Liberation Serif" fill="#222222" stroke="#222222" stroke-width="0.5" text-anchor="middle"><text transform="translate(2.40,0) scale(0.632,1)" font-size="10.30">Q</text><text transform="translate(9.60,0) scale(0.860,1)" font-size="10.30">1</text></g>
<g transform="translate(625,31.7)" font-family="Liberation Serif" fill="#222222" stroke="#222222" stroke-width="0.5" text-anchor="middle"><text transform="translate(2.40,0) scale(0.632,1)" font-size="10.30">Q</text><text transform="translate(9.60,0) scale(0.860,1)" font-size="10.30">2</text></g>
<rect x="462.5" y="65.3" width="10" height="25.0" fill="none" stroke="#2a2ab0" stroke-width="1.5"/>
<rect x="589" y="65.3" width="10" height="25.0" fill="none" stroke="#2a2ab0" stroke-width="1.5"/>
<g transform="translate(472.5,75)" font-family="Liberation Serif" fill="#30307a" stroke="#30307a" stroke-width="0.5" text-anchor="middle"><text transform="translate(2.88,0) scale(0.820,1)" font-size="10.30">R</text><text transform="translate(8.62,0) scale(0.860,1)" font-size="10.30">2</text></g>
<g transform="translate(473,100)" font-family="Liberation Serif" fill="#222222" stroke="#222222" stroke-width="0.5" text-anchor="middle"><text transform="translate(2.67,0) scale(0.860,1)" font-size="10.30">1</text><text transform="translate(8.00,0) scale(0.860,1)" font-size="10.30">0</text><text transform="translate(13.33,0) scale(0.860,1)" font-size="10.30">0</text></g>
<g transform="translate(599,75)" font-family="Liberation Serif" fill="#30307a" stroke="#30307a" stroke-width="0.5" text-anchor="middle"><text transform="translate(2.88,0) scale(0.820,1)" font-size="10.30">R</text><text transform="translate(8.62,0) scale(0.860,1)" font-size="10.30">3</text></g>
<g transform="translate(599.7,100)" font-family="Liberation Serif" fill="#222222" stroke="#222222" stroke-width="0.5" text-anchor="middle"><text transform="translate(2.67,0) scale(0.860,1)" font-size="10.30">1</text><text transform="translate(8.00,0) scale(0.860,1)" font-size="10.30">0</text><text transform="translate(13.33,0) scale(0.860,1)" font-size="10.30">0</text></g>
<polyline points="467.5,90.3 467.5,267.5" fill="none" stroke="#2c2a7c" stroke-width="1.5" stroke-linejoin="miter" stroke-linecap="square"/>
<polyline points="518.5,62 518.5,115.5 897,115.5" fill="none" stroke="#282828" stroke-width="1.5" stroke-linejoin="miter" stroke-linecap="square"/>
<polyline points="518.5,80 518.5,115.5 897,115.5" fill="none" stroke="#2c2a7c" stroke-width="1.5" stroke-linejoin="miter" stroke-linecap="square"/>
<polyline points="644.5,62 644.5,103.2 897,103.2" fill="none" stroke="#282828" stroke-width="1.5" stroke-linejoin="miter" stroke-linecap="square"/>
<polyline points="645,103.2 897,103.2" fill="none" stroke="#2c2a7c" stroke-width="1.5" stroke-linejoin="miter" stroke-linecap="square"/>
<polyline points="556,2.5 556,40.5" fill="none" stroke="#2c2a7c" stroke-width="1.5" stroke-linejoin="miter" stroke-linecap="square"/>
<polyline points="545.5,40.5 566.5,40.5" fill="none" stroke="#2c2a7c" stroke-width="1.6" stroke-linejoin="miter" stroke-linecap="square"/>
<path d="M545.5,48.1 Q556,41.1 566.5,48.1" fill="none" stroke="#2c2a7c" stroke-width="1.6"/>
<polyline points="556,47 556,78" fill="none" stroke="#8e3434" stroke-width="1.5" stroke-linejoin="miter" stroke-linecap="square"/>
<polyline points="542.8,78 569.2,78" fill="none" stroke="#8e3434" stroke-width="1.5" stroke-linejoin="miter" stroke-linecap="square"/>
<polyline points="546.8,81.8 565.2,81.8" fill="none" stroke="#8e3434" stroke-width="1.5" stroke-linejoin="miter" stroke-linecap="square"/>
<polyline points="550.6,85.6 561.4,85.6" fill="none" stroke="#8e3434" stroke-width="1.5" stroke-linejoin="miter" stroke-linecap="square"/>
<polyline points="554,89.2 558,89.2" fill="none" stroke="#8e3434" stroke-width="1.5" stroke-linejoin="miter" stroke-linecap="square"/>
<g transform="translate(544,100.6)" font-family="Liberation Serif" fill="#742626" stroke="#742626" stroke-width="0.5" text-anchor="middle"><text transform="translate(2.67,0) scale(0.690,1)" font-size="10.51">G</text><text transform="translate(10.69,0) scale(0.690,1)" font-size="10.51">N</text><text transform="translate(16.03,0) scale(0.690,1)" font-size="10.51">D</text></g>
<polyline points="559.9,33.8 565.1,33.8" fill="none" stroke="#2626c8" stroke-width="1.4" stroke-linejoin="miter" stroke-linecap="square"/>
<polyline points="562.5,31.199999999999996 562.5,36.4" fill="none" stroke="#2626c8" stroke-width="1.4" stroke-linejoin="miter" stroke-linecap="square"/>
<g transform="translate(567,40)" font-family="Liberation Serif" fill="#30307a" stroke="#30307a" stroke-width="0.5" text-anchor="middle"><text transform="translate(2.62,0) scale(0.749,1)" font-size="10.30">C</text><text transform="translate(7.88,0) scale(0.860,1)" font-size="10.30">7</text></g>
<g transform="translate(540,83.7) rotate(-90)" font-family="Liberation Serif" fill="#30307a" stroke="#30307a" stroke-width="0.5" text-anchor="middle"><text transform="translate(2.70,0) scale(0.860,1)" font-size="11.74">3</text><text transform="translate(8.10,0) scale(0.860,1)" font-size="11.74">3</text><text transform="translate(13.50,0) scale(0.860,1)" font-size="11.74">0</text><text transform="translate(18.90,0) scale(0.764,1)" font-size="13.86">u</text><text transform="translate(24.30,0) scale(0.810,1)" font-size="11.74">F</text><text transform="translate(29.70,0) scale(0.860,1)" font-size="11.74">/</text><text transform="translate(35.10,0) scale(0.860,1)" font-size="11.74">1</text><text transform="translate(40.50,0) scale(0.860,1)" font-size="11.74">6</text><text transform="translate(45.90,0) scale(0.624,1)" font-size="11.74">V</text></g>
<g transform="translate(847,100.3)" font-family="Liberation Serif" fill="#742626" stroke="#742626" stroke-width="0.5" text-anchor="middle"><text transform="translate(2.75,0) scale(0.860,1)" font-size="10.71">+</text><text transform="translate(8.25,0) scale(0.860,1)" font-size="10.71">1</text><text transform="translate(13.75,0) scale(0.860,1)" font-size="10.71">2</text><text transform="translate(19.25,0) scale(0.697,1)" font-size="10.71">V</text><text transform="translate(27.50,0) scale(0.754,1)" font-size="10.71">C</text><text transform="translate(33.00,0) scale(0.860,1)" font-size="10.71">P</text><text transform="translate(41.25,0) scale(0.697,1)" font-size="10.71">U</text></g>
<g transform="translate(847,113.4)" font-family="Liberation Serif" fill="#742626" stroke="#742626" stroke-width="0.5" text-anchor="middle"><text transform="translate(2.75,0) scale(0.860,1)" font-size="10.71">+</text><text transform="translate(8.25,0) scale(0.860,1)" font-size="10.71">1</text><text transform="translate(13.75,0) scale(0.860,1)" font-size="10.71">2</text><text transform="translate(19.25,0) scale(0.697,1)" font-size="10.71">V</text></g>
<g transform="translate(847,125.8)" font-family="Liberation Serif" fill="#742626" stroke="#742626" stroke-width="0.5" text-anchor="middle"><text transform="translate(2.82,0) scale(0.860,1)" font-size="10.71">+</text><text transform="translate(8.45,0) scale(0.860,1)" font-size="10.71">5</text><text transform="translate(14.09,0) scale(0.714,1)" font-size="10.71">V</text><text transform="translate(19.73,0) scale(0.860,1)" font-size="10.71">S</text><text transform="translate(28.18,0) scale(0.773,1)" font-size="10.71">B</text></g>
<g transform="translate(847,138.8)" font-family="Liberation Serif" fill="#742626" stroke="#742626" stroke-width="0.5" text-anchor="middle"><text transform="translate(2.50,0) scale(0.811,1)" font-size="10.71">+</text><text transform="translate(7.50,0) scale(0.860,1)" font-size="10.71">3</text><text transform="translate(12.50,0) scale(0.860,1)" font-size="10.71">.</text><text transform="translate(17.50,0) scale(0.860,1)" font-size="10.71">3</text><text transform="translate(22.50,0) scale(0.633,1)" font-size="10.71">V</text></g>
<g transform="translate(847,151)" font-family="Liberation Serif" fill="#742626" stroke="#742626" stroke-width="0.5" text-anchor="middle"><text transform="translate(2.75,0) scale(0.860,1)" font-size="10.71">+</text><text transform="translate(8.25,0) scale(0.860,1)" font-size="10.71">5</text><text transform="translate(13.75,0) scale(0.697,1)" font-size="10.71">V</text></g>
<g transform="translate(847,164)" font-family="Liberation Serif" fill="#742626" stroke="#742626" stroke-width="0.5" text-anchor="middle"><text transform="translate(2.70,0) scale(0.860,1)" font-size="10.71">P</text><text transform="translate(8.10,0) scale(0.860,1)" font-size="10.71">S</text><text transform="translate(13.50,0) scale(0.860,1)" font-size="10.71">-</text><text transform="translate(18.90,0) scale(0.684,1)" font-size="10.71">O</text><text transform="translate(24.30,0) scale(0.684,1)" font-size="10.71">N</text></g>
<g transform="translate(847,176.2)" font-family="Liberation Serif" fill="#742626" stroke="#742626" stroke-width="0.5" text-anchor="middle"><text transform="translate(2.88,0) scale(0.860,1)" font-size="10.71">P</text><text transform="translate(8.63,0) scale(0.860,1)" font-size="12.64">o</text><text transform="translate(15.25,0) scale(0.618,1)" font-size="12.64">w</text><text transform="translate(21.86,0) scale(0.860,1)" font-size="12.64">e</text><text transform="translate(27.62,0) scale(0.860,1)" font-size="12.64">r</text><text transform="translate(33.37,0) scale(0.860,1)" font-size="12.64">o</text><text transform="translate(39.12,0) scale(0.860,1)" font-size="12.64">k</text></g>
<polyline points="631.3,166.6 897,166.6" fill="none" stroke="#2c2a7c" stroke-width="1.5" stroke-linejoin="miter" stroke-linecap="square"/>
<polyline points="847,179 897,179" fill="none" stroke="#2c2a7c" stroke-width="1.5" stroke-linejoin="miter" stroke-linecap="square"/>
<polyline points="505.3,153.9 505.3,192" fill="none" stroke="#2c2a7c" stroke-width="1.5" stroke-linejoin="miter" stroke-linecap="square"/>
<polyline points="556,141.3 556,192" fill="none" stroke="#2c2a7c" stroke-width="1.5" stroke-linejoin="miter" stroke-linecap="square"/>
<polyline points="494.8,192 515.8,192" fill="none" stroke="#2c2a7c" stroke-width="1.6" stroke-linejoin="miter" stroke-linecap="square"/>
<path d="M494.8,199.6 Q505.3,192.6 515.8,199.6" fill="none" stroke="#2c2a7c" stroke-width="1.6"/>
<polyline points="545.5,192 566.5,192" fill="none" stroke="#2c2a7c" stroke-width="1.6" stroke-linejoin="miter" stroke-linecap="square"/>
<path d="M545.5,199.6 Q556,192.6 566.5,199.6" fill="none" stroke="#2c2a7c" stroke-width="1.6"/>
<polyline points="505.3,198 505.3,229.5" fill="none" stroke="#2c2a7c" stroke-width="1.5" stroke-linejoin="miter" stroke-linecap="square"/>
<polyline points="556,198 556,229.5 505.3,229.5" fill="none" stroke="#2c2a7c" stroke-width="1.5" stroke-linejoin="miter" stroke-linecap="square"/>
<polyline points="505.3,229.5 505.3,242.5" fill="none" stroke="#8e3434" stroke-width="1.5" stroke-linejoin="miter" stroke-linecap="square"/>
<polyline points="492.1,242.5 518.5,242.5" fill="none" stroke="#8e3434" stroke-width="1.5" stroke-linejoin="miter" stroke-linecap="square"/>
<polyline points="496.1,246.3 514.5,246.3" fill="none" stroke="#8e3434" stroke-width="1.5" stroke-linejoin="miter" stroke-linecap="square"/>
<polyline points="499.90000000000003,250.1 510.7,250.1" fill="none" stroke="#8e3434" stroke-width="1.5" stroke-linejoin="miter" stroke-linecap="square"/>
<polyline points="503.3,253.7 507.3,253.7" fill="none" stroke="#8e3434" stroke-width="1.5" stroke-linejoin="miter" stroke-linecap="square"/>
<g transform="translate(493.3,265.1)" font-family="Liberation Serif" fill="#742626" stroke="#742626" stroke-width="0.5" text-anchor="middle"><text transform="translate(2.67,0) scale(0.690,1)" font-size="10.51">G</text><text transform="translate(10.69,0) scale(0.690,1)" font-size="10.51">N</text><text transform="translate(16.03,0) scale(0.690,1)" font-size="10.51">D</text></g>
<polyline points="509.09999999999997,185.3 514.3,185.3" fill="none" stroke="#2626c8" stroke-width="1.4" stroke-linejoin="miter" stroke-linecap="square"/>
<polyline points="511.7,182.70000000000002 511.7,187.9" fill="none" stroke="#2626c8" stroke-width="1.4" stroke-linejoin="miter" stroke-linecap="square"/>
<polyline points="559.9,185.3 565.1,185.3" fill="none" stroke="#2626c8" stroke-width="1.4" stroke-linejoin="miter" stroke-linecap="square"/>
<polyline points="562.5,182.70000000000002 562.5,187.9" fill="none" stroke="#2626c8" stroke-width="1.4" stroke-linejoin="miter" stroke-linecap="square"/>
<g transform="translate(505.8,215)" font-family="Liberation Serif" fill="#222222" stroke="#222222" stroke-width="0.5" text-anchor="middle"><text transform="translate(2.67,0) scale(0.658,1)" font-size="11.95">C</text><text transform="translate(8.02,0) scale(0.860,1)" font-size="11.95">6</text></g>
<g transform="translate(556.2,215)" font-family="Liberation Serif" fill="#222222" stroke="#222222" stroke-width="0.5" text-anchor="middle"><text transform="translate(2.65,0) scale(0.652,1)" font-size="11.95">C</text><text transform="translate(7.95,0) scale(0.860,1)" font-size="11.95">5</text></g>
<g transform="translate(490,222.5) rotate(-90)" font-family="Liberation Serif" fill="#30307a" stroke="#30307a" stroke-width="0.5" text-anchor="middle"><text transform="translate(2.55,0) scale(0.851,1)" font-size="11.74">4</text><text transform="translate(7.65,0) scale(0.851,1)" font-size="11.74">7</text><text transform="translate(12.75,0) scale(0.851,1)" font-size="11.74">0</text><text transform="translate(17.85,0) scale(0.721,1)" font-size="13.86">u</text><text transform="translate(22.95,0) scale(0.765,1)" font-size="11.74">F</text><text transform="translate(28.05,0) scale(0.860,1)" font-size="11.74">/</text><text transform="translate(33.15,0) scale(0.851,1)" font-size="11.74">6</text><text transform="translate(38.25,0) scale(0.860,1)" font-size="11.74">.</text><text transform="translate(43.35,0) scale(0.851,1)" font-size="11.74">3</text><text transform="translate(48.45,0) scale(0.589,1)" font-size="11.74">V</text></g>
<g transform="translate(540,217) rotate(-90)" font-family="Liberation Serif" fill="#30307a" stroke="#30307a" stroke-width="0.5" text-anchor="middle"><text transform="translate(2.55,0) scale(0.851,1)" font-size="11.74">4</text><text transform="translate(7.65,0) scale(0.851,1)" font-size="11.74">7</text><text transform="translate(12.75,0) scale(0.851,1)" font-size="11.74">0</text><text transform="translate(17.85,0) scale(0.721,1)" font-size="13.86">u</text><text transform="translate(22.95,0) scale(0.765,1)" font-size="11.74">F</text><text transform="translate(28.05,0) scale(0.860,1)" font-size="11.74">/</text><text transform="translate(33.15,0) scale(0.851,1)" font-size="11.74">6</text><text transform="translate(38.25,0) scale(0.860,1)" font-size="11.74">.</text><text transform="translate(43.35,0) scale(0.851,1)" font-size="11.74">3</text><text transform="translate(48.45,0) scale(0.589,1)" font-size="11.74">V</text></g>
<polyline points="403.8,205.2 403.8,205.2" fill="none" stroke="#2c2a7c" stroke-width="1.5" stroke-linejoin="miter" stroke-linecap="square"/>
<polyline points="403.8,205.2 416.7,212.0" fill="none" stroke="#2a2ab0" stroke-width="1.7" stroke-linejoin="miter" stroke-linecap="square"/>
<polyline points="416.7,206.0 416.7,228.39999999999998" fill="none" stroke="#2a2ab0" stroke-width="1.8" stroke-linejoin="miter" stroke-linecap="square"/>
<polyline points="416.7,222.0 405.8,228.7" fill="none" stroke="#2a2ab0" stroke-width="1.5" stroke-linejoin="miter" stroke-linecap="square"/>
<polygon points="403.3,229.79999999999998 407.0,222.39999999999998 411.6,228.6" fill="#2a2ab0"/>
<polyline points="416.7,216.7 442,216.7 442,230" fill="none" stroke="#282828" stroke-width="1.5" stroke-linejoin="miter" stroke-linecap="square"/>
<polyline points="403.8,229.5 403.8,252" fill="none" stroke="#282828" stroke-width="1.5" stroke-linejoin="miter" stroke-linecap="square"/>
<polyline points="403.8,252 403.8,267.4" fill="none" stroke="#8e3434" stroke-width="1.5" stroke-linejoin="miter" stroke-linecap="square"/>
<polyline points="390.6,267.4 417.0,267.4" fill="none" stroke="#8e3434" stroke-width="1.5" stroke-linejoin="miter" stroke-linecap="square"/>
<polyline points="394.6,271.2 413.0,271.2" fill="none" stroke="#8e3434" stroke-width="1.5" stroke-linejoin="miter" stroke-linecap="square"/>
<polyline points="398.40000000000003,275.0 409.2,275.0" fill="none" stroke="#8e3434" stroke-width="1.5" stroke-linejoin="miter" stroke-linecap="square"/>
<polyline points="401.8,278.59999999999997 405.8,278.59999999999997" fill="none" stroke="#8e3434" stroke-width="1.5" stroke-linejoin="miter" stroke-linecap="square"/>
<g transform="translate(391.8,290.0)" font-family="Liberation Serif" fill="#742626" stroke="#742626" stroke-width="0.5" text-anchor="middle"><text transform="translate(2.67,0) scale(0.690,1)" font-size="10.51">G</text><text transform="translate(10.69,0) scale(0.690,1)" font-size="10.51">N</text><text transform="translate(16.03,0) scale(0.690,1)" font-size="10.51">D</text></g>
<rect x="436.7" y="230.2" width="10" height="24.80000000000001" fill="none" stroke="#2a2ab0" stroke-width="1.5"/>
<polyline points="441.7,255 441.7,292.9" fill="none" stroke="#282828" stroke-width="1.5" stroke-linejoin="miter" stroke-linecap="square"/>
<polyline points="441.7,267.4 467.6,267.4" fill="none" stroke="#2c2a7c" stroke-width="1.5" stroke-linejoin="miter" stroke-linecap="square"/>
<g transform="translate(410.4,201.8)" font-family="Liberation Serif" fill="#222222" stroke="#222222" stroke-width="0.5" text-anchor="middle"><text transform="translate(2.80,0) scale(0.716,1)" font-size="10.61">Q</text><text transform="translate(11.20,0) scale(0.860,1)" font-size="10.61">3</text></g>
<g transform="translate(400.6,229.3) rotate(-90)" font-family="Liberation Serif" fill="#30307a" stroke="#30307a" stroke-width="0.5" text-anchor="middle"><text transform="translate(2.77,0) scale(0.860,1)" font-size="10.61">2</text><text transform="translate(8.31,0) scale(0.708,1)" font-size="10.61">N</text><text transform="translate(16.62,0) scale(0.860,1)" font-size="10.61">3</text><text transform="translate(22.15,0) scale(0.860,1)" font-size="10.61">9</text><text transform="translate(27.69,0) scale(0.860,1)" font-size="10.61">0</text><text transform="translate(33.23,0) scale(0.860,1)" font-size="10.61">4</text></g>
<g transform="translate(447,239.6)" font-family="Liberation Serif" fill="#30307a" stroke="#30307a" stroke-width="0.5" text-anchor="middle"><text transform="translate(2.88,0) scale(0.820,1)" font-size="10.30">R</text><text transform="translate(8.62,0) scale(0.860,1)" font-size="10.30">4</text></g>
<g transform="translate(433,255.1) rotate(-90)" font-family="Liberation Serif" fill="#30307a" stroke="#30307a" stroke-width="0.5" text-anchor="middle"><text transform="translate(2.73,0) scale(0.860,1)" font-size="10.61">5</text><text transform="translate(8.18,0) scale(0.860,1)" font-size="10.61">1</text><text transform="translate(13.62,0) scale(0.860,1)" font-size="10.61">0</text><text transform="translate(19.07,0) scale(0.697,1)" font-size="10.61">K</text></g>
<g transform="translate(423,290.3)" font-family="Liberation Serif" fill="#30307a" stroke="#30307a" stroke-width="0.5" text-anchor="middle"><text transform="translate(2.88,0) scale(0.820,1)" font-size="10.30">R</text><text transform="translate(8.62,0) scale(0.860,1)" font-size="10.30">5</text></g>
<polyline points="404.3,318.4 417.2,325.2" fill="none" stroke="#2a2ab0" stroke-width="1.7" stroke-linejoin="miter" stroke-linecap="square"/>
<polyline points="417.2,319.2 417.2,341.59999999999997" fill="none" stroke="#2a2ab0" stroke-width="1.8" stroke-linejoin="miter" stroke-linecap="square"/>
<polyline points="417.2,335.2 406.3,341.9" fill="none" stroke="#2a2ab0" stroke-width="1.5" stroke-linejoin="miter" stroke-linecap="square"/>
<polygon points="403.8,343.0 407.5,335.59999999999997 412.1,341.79999999999995" fill="#2a2ab0"/>
<polyline points="417.2,330.6 441.7,330.6 441.7,317.5" fill="none" stroke="#282828" stroke-width="1.5" stroke-linejoin="miter" stroke-linecap="square"/>
<rect x="436.7" y="292.9" width="10" height="24.600000000000023" fill="none" stroke="#2a2ab0" stroke-width="1.5"/>
<polyline points="404.3,368.8 827.4,368.8 827.4,345" fill="none" stroke="#2c2a7c" stroke-width="1.5" stroke-linejoin="miter" stroke-linecap="square"/>
<polyline points="404.3,342.6 404.3,368.8" fill="none" stroke="#282828" stroke-width="1.5" stroke-linejoin="miter" stroke-linecap="square"/>
<polyline points="827.4,330.4 827.4,345" fill="none" stroke="#282828" stroke-width="1.5" stroke-linejoin="miter" stroke-linecap="square"/>
<g transform="translate(410.6,315.5)" font-family="Liberation Serif" fill="#222222" stroke="#222222" stroke-width="0.5" text-anchor="middle"><text transform="translate(2.80,0) scale(0.716,1)" font-size="10.61">Q</text><text transform="translate(11.20,0) scale(0.860,1)" font-size="10.61">4</text></g>
<g transform="translate(401,343) rotate(-90)" font-family="Liberation Serif" fill="#30307a" stroke="#30307a" stroke-width="0.5" text-anchor="middle"><text transform="translate(2.77,0) scale(0.860,1)" font-size="10.61">2</text><text transform="translate(8.31,0) scale(0.708,1)" font-size="10.61">N</text><text transform="translate(16.62,0) scale(0.860,1)" font-size="10.61">3</text><text transform="translate(22.15,0) scale(0.860,1)" font-size="10.61">9</text><text transform="translate(27.69,0) scale(0.860,1)" font-size="10.61">0</text><text transform="translate(33.23,0) scale(0.860,1)" font-size="10.61">4</text></g>
<g transform="translate(458,317.5) rotate(-90)" font-family="Liberation Serif" fill="#30307a" stroke="#30307a" stroke-width="0.5" text-anchor="middle"><text transform="translate(2.75,0) scale(0.860,1)" font-size="10.30">5</text><text transform="translate(8.25,0) scale(0.860,1)" font-size="10.30">1</text><text transform="translate(13.75,0) scale(0.860,1)" font-size="10.30">0</text><text transform="translate(19.25,0) scale(0.725,1)" font-size="10.30">K</text></g>
<polyline points="467.6,267.4 467.6,299.1 505.6,299.1" fill="none" stroke="#2c2a7c" stroke-width="1.5" stroke-linejoin="miter" stroke-linecap="square"/>
<polyline points="480,299.1 505.6,299.1" fill="none" stroke="#282828" stroke-width="1.5" stroke-linejoin="miter" stroke-linecap="square"/>
<polygon points="505.6,299.1 556.3,274.6 556.3,324.7" fill="none" stroke="#2a2ab0" stroke-width="1.7"/>
<polyline points="543.5,286.4 549.5,286.4" fill="none" stroke="#2a2ab0" stroke-width="1.6" stroke-linejoin="miter" stroke-linecap="square"/>
<polyline points="543.5,312.5 549.5,312.5" fill="none" stroke="#2626c8" stroke-width="1.4" stroke-linejoin="miter" stroke-linecap="square"/>
<polyline points="546.5,309.5 546.5,315.5" fill="none" stroke="#2626c8" stroke-width="1.4" stroke-linejoin="miter" stroke-linecap="square"/>
<polyline points="531,249 531,286.8" fill="none" stroke="#282828" stroke-width="1.5" stroke-linejoin="miter" stroke-linecap="square"/>
<polyline points="531,278 531,286.8" fill="none" stroke="#2a2ab0" stroke-width="1.5" stroke-linejoin="miter" stroke-linecap="square"/>
<polyline points="530.6,312 530.6,350.3" fill="none" stroke="#282828" stroke-width="1.5" stroke-linejoin="miter" stroke-linecap="square"/>
<polyline points="530.6,312 530.6,328" fill="none" stroke="#2a2ab0" stroke-width="1.5" stroke-linejoin="miter" stroke-linecap="square"/>
<polyline points="562,286.6 631.6,286.6 631.6,260.6" fill="none" stroke="#2c2a7c" stroke-width="1.5" stroke-linejoin="miter" stroke-linecap="square"/>
<polyline points="562,311.8 613.2,311.8 613.2,286.6" fill="none" stroke="#2c2a7c" stroke-width="1.5" stroke-linejoin="miter" stroke-linecap="square"/>
<polyline points="612.7,204.6 612.7,236" fill="none" stroke="#2c2a7c" stroke-width="1.5" stroke-linejoin="miter" stroke-linecap="square"/>
<polyline points="562,286.6 582,286.6" fill="none" stroke="#282828" stroke-width="1.5" stroke-linejoin="miter" stroke-linecap="square"/>
<polyline points="562,311.8 582,311.8" fill="none" stroke="#282828" stroke-width="1.5" stroke-linejoin="miter" stroke-linecap="square"/>
<circle cx="560" cy="286.6" r="2" fill="#fff" stroke="#c8c8c8" stroke-width="0.9"/>
<circle cx="560" cy="311.8" r="2" fill="#fff" stroke="#c8c8c8" stroke-width="0.9"/>
<g transform="translate(498.6,291.2)" font-family="Liberation Serif" fill="#30307a" stroke="#30307a" stroke-width="0.5" text-anchor="middle"><text transform="translate(2.86,0) scale(0.731,1)" font-size="10.61">U</text><text transform="translate(11.43,0) scale(0.860,1)" font-size="10.61">1</text><text transform="translate(17.14,0) scale(0.791,1)" font-size="10.61">B</text></g>
<g transform="translate(489.8,296.2)" font-family="Liberation Serif" fill="#222222" stroke="#222222" stroke-width="0.5" text-anchor="middle"><text transform="translate(2.50,0) scale(0.860,1)" font-size="10.61">7</text></g>
<g transform="translate(566,283.4)" font-family="Liberation Serif" fill="#222222" stroke="#222222" stroke-width="0.5" text-anchor="middle"><text transform="translate(2.75,0) scale(0.860,1)" font-size="10.30">6</text></g>
<g transform="translate(566,309)" font-family="Liberation Serif" fill="#222222" stroke="#222222" stroke-width="0.5" text-anchor="middle"><text transform="translate(2.75,0) scale(0.860,1)" font-size="10.30">5</text></g>
<g transform="translate(480.3,328.6)" font-family="Liberation Serif" fill="#30307a" stroke="#30307a" stroke-width="0.5" text-anchor="middle"><text transform="translate(2.85,0) scale(0.808,1)" font-size="11.33">L</text><text transform="translate(9.41,0) scale(0.555,1)" font-size="11.33">M</text><text transform="translate(15.98,0) scale(0.860,1)" font-size="11.33">3</text><text transform="translate(24.54,0) scale(0.860,1)" font-size="11.33">9</text><text transform="translate(30.24,0) scale(0.860,1)" font-size="11.33">3</text><text transform="translate(35.95,0) scale(0.683,1)" font-size="11.33">D</text></g>
<g transform="translate(527.3,264) rotate(-90)" font-family="Liberation Serif" fill="#222222" stroke="#222222" stroke-width="0.5" text-anchor="middle"><text transform="translate(3.00,0) scale(0.860,1)" font-size="10.30">8</text></g>
<g transform="translate(527,341.5) rotate(-90)" font-family="Liberation Serif" fill="#222222" stroke="#222222" stroke-width="0.5" text-anchor="middle"><text transform="translate(2.50,0) scale(0.860,1)" font-size="8.24">4</text></g>
<polyline points="594.2,128.5 594.2,236" fill="none" stroke="#2c2a7c" stroke-width="1.5" stroke-linejoin="miter" stroke-linecap="square"/>
<polyline points="594.2,204.6 650.8,204.6 650.8,236" fill="none" stroke="#2c2a7c" stroke-width="1.5" stroke-linejoin="miter" stroke-linecap="square"/>
<polyline points="631.3,166.6 631.3,236" fill="none" stroke="#2c2a7c" stroke-width="1.5" stroke-linejoin="miter" stroke-linecap="square"/>
<rect x="589.2" y="236" width="10" height="24.600000000000023" fill="none" stroke="#2a2ab0" stroke-width="1.5"/>
<polyline points="594.2,221 594.2,236" fill="none" stroke="#282828" stroke-width="1.5" stroke-linejoin="miter" stroke-linecap="square"/>
<g transform="translate(603.2,235.7) rotate(-90)" font-family="Liberation Serif" fill="#222222" stroke="#222222" stroke-width="0.5" text-anchor="middle"><text transform="translate(3.00,0) scale(0.831,1)" font-size="10.61">R</text><text transform="translate(9.00,0) scale(0.860,1)" font-size="10.61">6</text></g>
<g transform="translate(603.2,279.5) rotate(-90)" font-family="Liberation Serif" fill="#222222" stroke="#222222" stroke-width="0.5" text-anchor="middle"><text transform="translate(2.43,0) scale(0.860,1)" font-size="10.61">1</text><text transform="translate(7.30,0) scale(0.860,1)" font-size="10.61">0</text><text transform="translate(12.17,0) scale(0.622,1)" font-size="10.61">K</text></g>
<rect x="607.7" y="236" width="10" height="24.600000000000023" fill="none" stroke="#2a2ab0" stroke-width="1.5"/>
<polyline points="612.7,221 612.7,236" fill="none" stroke="#282828" stroke-width="1.5" stroke-linejoin="miter" stroke-linecap="square"/>
<g transform="translate(621.7,235.7) rotate(-90)" font-family="Liberation Serif" fill="#222222" stroke="#222222" stroke-width="0.5" text-anchor="middle"><text transform="translate(3.00,0) scale(0.831,1)" font-size="10.61">R</text><text transform="translate(9.00,0) scale(0.860,1)" font-size="10.61">8</text></g>
<g transform="translate(621.7,279.5) rotate(-90)" font-family="Liberation Serif" fill="#222222" stroke="#222222" stroke-width="0.5" text-anchor="middle"><text transform="translate(2.43,0) scale(0.860,1)" font-size="10.61">1</text><text transform="translate(7.30,0) scale(0.860,1)" font-size="10.61">0</text><text transform="translate(12.17,0) scale(0.622,1)" font-size="10.61">K</text></g>
<rect x="626.5" y="236" width="10" height="24.600000000000023" fill="none" stroke="#2a2ab0" stroke-width="1.5"/>
<polyline points="631.5,221 631.5,236" fill="none" stroke="#282828" stroke-width="1.5" stroke-linejoin="miter" stroke-linecap="square"/>
<g transform="translate(640.5,235.7) rotate(-90)" font-family="Liberation Serif" fill="#222222" stroke="#222222" stroke-width="0.5" text-anchor="middle"><text transform="translate(3.00,0) scale(0.831,1)" font-size="10.61">R</text><text transform="translate(9.00,0) scale(0.860,1)" font-size="10.61">9</text></g>
<g transform="translate(640.5,279.5) rotate(-90)" font-family="Liberation Serif" fill="#222222" stroke="#222222" stroke-width="0.5" text-anchor="middle"><text transform="translate(3.00,0) scale(0.860,1)" font-size="10.61">1</text><text transform="translate(9.00,0) scale(0.767,1)" font-size="10.61">K</text></g>
<rect x="645.8" y="236" width="10" height="24.600000000000023" fill="none" stroke="#2a2ab0" stroke-width="1.5"/>
<polyline points="650.8,221 650.8,236" fill="none" stroke="#282828" stroke-width="1.5" stroke-linejoin="miter" stroke-linecap="square"/>
<g transform="translate(659.8,235.7) rotate(-90)" font-family="Liberation Serif" fill="#222222" stroke="#222222" stroke-width="0.5" text-anchor="middle"><text transform="translate(3.17,0) scale(0.860,1)" font-size="10.61">R</text><text transform="translate(9.50,0) scale(0.860,1)" font-size="10.61">1</text><text transform="translate(15.83,0) scale(0.860,1)" font-size="10.61">0</text></g>
<g transform="translate(659.8,279.5) rotate(-90)" font-family="Liberation Serif" fill="#222222" stroke="#222222" stroke-width="0.5" text-anchor="middle"><text transform="translate(2.43,0) scale(0.860,1)" font-size="10.61">1</text><text transform="translate(7.30,0) scale(0.860,1)" font-size="10.61">0</text><text transform="translate(12.17,0) scale(0.622,1)" font-size="10.61">K</text></g>
<polyline points="594.2,260.6 594.2,330.3" fill="none" stroke="#2c2a7c" stroke-width="1.5" stroke-linejoin="miter" stroke-linecap="square"/>
<polyline points="612.7,260.6 612.7,286.6" fill="none" stroke="#2c2a7c" stroke-width="1.5" stroke-linejoin="miter" stroke-linecap="square"/>
<polyline points="650.8,260.6 650.8,305.8" fill="none" stroke="#2c2a7c" stroke-width="1.5" stroke-linejoin="miter" stroke-linecap="square"/>
<polyline points="594.2,260.6 594.2,280" fill="none" stroke="#282828" stroke-width="1.5" stroke-linejoin="miter" stroke-linecap="square"/>
<polyline points="612.7,260.6 612.7,280" fill="none" stroke="#282828" stroke-width="1.5" stroke-linejoin="miter" stroke-linecap="square"/>
<polyline points="631.5,260.6 631.5,280" fill="none" stroke="#282828" stroke-width="1.5" stroke-linejoin="miter" stroke-linecap="square"/>
<polyline points="650.8,260.6 650.8,280" fill="none" stroke="#282828" stroke-width="1.5" stroke-linejoin="miter" stroke-linecap="square"/>
<rect x="588.8" y="330.3" width="10" height="25.0" fill="none" stroke="#2a2ab0" stroke-width="1.5"/>
<polyline points="593.8,355.3 593.8,368.8" fill="none" stroke="#282828" stroke-width="1.5" stroke-linejoin="miter" stroke-linecap="square"/>
<g transform="translate(575,340.8)" font-family="Liberation Serif" fill="#222222" stroke="#222222" stroke-width="0.5" text-anchor="middle"><text transform="translate(3.00,0) scale(0.856,1)" font-size="10.30">R</text><text transform="translate(9.00,0) scale(0.860,1)" font-size="10.30">7</text></g>
<g transform="translate(569,353.3)" font-family="Liberation Serif" fill="#222222" stroke="#222222" stroke-width="0.5" text-anchor="middle"><text transform="translate(2.83,0) scale(0.860,1)" font-size="10.30">1</text><text transform="translate(8.50,0) scale(0.860,1)" font-size="10.30">0</text><text transform="translate(14.17,0) scale(0.747,1)" font-size="10.30">K</text></g>
<polyline points="625.6,305.8 689,305.8 689,318.2 708,318.2" fill="none" stroke="#2c2a7c" stroke-width="1.5" stroke-linejoin="miter" stroke-linecap="square"/>
<polyline points="625.6,305.8 625.6,330.8" fill="none" stroke="#282828" stroke-width="1.5" stroke-linejoin="miter" stroke-linecap="square"/>
<polyline points="615.1,330.8 636.1,330.8" fill="none" stroke="#2c2a7c" stroke-width="1.6" stroke-linejoin="miter" stroke-linecap="square"/>
<path d="M615.1,338.40000000000003 Q625.6,331.40000000000003 636.1,338.40000000000003" fill="none" stroke="#2c2a7c" stroke-width="1.6"/>
<polyline points="625.6,337 625.6,368.8" fill="none" stroke="#282828" stroke-width="1.5" stroke-linejoin="miter" stroke-linecap="square"/>
<polyline points="628.9,324.5 634.1,324.5" fill="none" stroke="#2626c8" stroke-width="1.4" stroke-linejoin="miter" stroke-linecap="square"/>
<polyline points="631.5,321.9 631.5,327.1" fill="none" stroke="#2626c8" stroke-width="1.4" stroke-linejoin="miter" stroke-linecap="square"/>
<g transform="translate(606.5,321.5)" font-family="Liberation Serif" fill="#222222" stroke="#222222" stroke-width="0.5" text-anchor="middle"><text transform="translate(2.70,0) scale(0.748,1)" font-size="10.61">C</text><text transform="translate(8.10,0) scale(0.860,1)" font-size="10.61">8</text></g>
<g transform="translate(601,359.3)" font-family="Liberation Serif" fill="#222222" stroke="#222222" stroke-width="0.5" text-anchor="middle"><text transform="translate(2.71,0) scale(0.860,1)" font-size="10.61">1</text><text transform="translate(8.14,0) scale(0.860,1)" font-size="10.61">0</text><text transform="translate(13.56,0) scale(0.849,1)" font-size="12.52">u</text><text transform="translate(18.99,0) scale(0.860,1)" font-size="10.61">F</text></g>
<polyline points="651.1,305.8 651.1,368.8" fill="none" stroke="#282828" stroke-width="1.5" stroke-linejoin="miter" stroke-linecap="square"/>
<polygon points="637.4,330.7 664.4,330.7 651,343.6" fill="#0a0ae6"/>
<polyline points="637.8,343.6 664,343.6" fill="none" stroke="#303070" stroke-width="1.6" stroke-linejoin="miter" stroke-linecap="square"/>
<g transform="translate(657,328.5)" font-family="Liberation Serif" fill="#222222" stroke="#222222" stroke-width="0.5" text-anchor="middle"><text transform="translate(2.64,0) scale(0.675,1)" font-size="10.61">D</text><text transform="translate(10.56,0) scale(0.860,1)" font-size="10.61">2</text></g>
<g transform="translate(632.4,378.6)" font-family="Liberation Serif" fill="#30307a" stroke="#30307a" stroke-width="0.5" text-anchor="middle"><text transform="translate(2.74,0) scale(0.860,1)" font-size="10.30">1</text><text transform="translate(8.22,0) scale(0.722,1)" font-size="10.30">N</text><text transform="translate(13.69,0) scale(0.860,1)" font-size="10.30">4</text><text transform="translate(21.91,0) scale(0.860,1)" font-size="10.30">1</text><text transform="translate(27.38,0) scale(0.860,1)" font-size="10.30">4</text><text transform="translate(32.86,0) scale(0.860,1)" font-size="10.30">8</text></g>
<rect x="671" y="330.8" width="10" height="24.19999999999999" fill="none" stroke="#2a2ab0" stroke-width="1.5"/>
<polyline points="676,355 676,368.8" fill="none" stroke="#282828" stroke-width="1.5" stroke-linejoin="miter" stroke-linecap="square"/>
<g transform="translate(681.6,340.6)" font-family="Liberation Serif" fill="#30307a" stroke="#30307a" stroke-width="0.5" text-anchor="middle"><text transform="translate(2.71,0) scale(0.774,1)" font-size="10.30">R</text><text transform="translate(8.14,0) scale(0.860,1)" font-size="10.30">1</text><text transform="translate(16.29,0) scale(0.860,1)" font-size="10.30">2</text></g>
<g transform="translate(681.6,353)" font-family="Liberation Serif" fill="#222222" stroke="#222222" stroke-width="0.5" text-anchor="middle"><text transform="translate(2.67,0) scale(0.860,1)" font-size="10.30">1</text><text transform="translate(8.00,0) scale(0.860,1)" font-size="10.30">0</text><text transform="translate(13.33,0) scale(0.860,1)" font-size="10.30">0</text></g>
<g transform="translate(698.3,315.6)" font-family="Liberation Serif" fill="#222222" stroke="#222222" stroke-width="0.5" text-anchor="middle"><text transform="translate(2.50,0) scale(0.860,1)" font-size="10.30">3</text></g>
<circle cx="709" cy="318.2" r="2" fill="#fff" stroke="#c8c8c8" stroke-width="0.9"/>
<polyline points="556,368.8 556,381.6" fill="none" stroke="#8e3434" stroke-width="1.5" stroke-linejoin="miter" stroke-linecap="square"/>
<polyline points="542.8,381.6 569.2,381.6" fill="none" stroke="#8e3434" stroke-width="1.5" stroke-linejoin="miter" stroke-linecap="square"/>
<polyline points="546.8,385.40000000000003 565.2,385.40000000000003" fill="none" stroke="#8e3434" stroke-width="1.5" stroke-linejoin="miter" stroke-linecap="square"/>
<polyline points="550.6,389.20000000000005 561.4,389.20000000000005" fill="none" stroke="#8e3434" stroke-width="1.5" stroke-linejoin="miter" stroke-linecap="square"/>
<polyline points="554,392.8 558,392.8" fill="none" stroke="#8e3434" stroke-width="1.5" stroke-linejoin="miter" stroke-linecap="square"/>
<g transform="translate(544,404.20000000000005)" font-family="Liberation Serif" fill="#742626" stroke="#742626" stroke-width="0.5" text-anchor="middle"><text transform="translate(2.67,0) scale(0.690,1)" font-size="10.51">G</text><text transform="translate(10.69,0) scale(0.690,1)" font-size="10.51">N</text><text transform="translate(16.03,0) scale(0.690,1)" font-size="10.51">D</text></g>
<polyline points="676.3,154 676.3,191.9" fill="none" stroke="#282828" stroke-width="1.5" stroke-linejoin="miter" stroke-linecap="square"/>
<rect x="670.5" y="191.9" width="10" height="24.69999999999999" fill="none" stroke="#2a2ab0" stroke-width="1.5"/>
<polyline points="675.5,216.6 675.5,330.8" fill="none" stroke="#282828" stroke-width="1.5" stroke-linejoin="miter" stroke-linecap="square"/>
<g transform="translate(682.7,196)" font-family="Liberation Serif" fill="#30307a" stroke="#30307a" stroke-width="0.5" text-anchor="middle"><text transform="translate(2.71,0) scale(0.774,1)" font-size="10.30">R</text><text transform="translate(8.14,0) scale(0.860,1)" font-size="10.30">1</text><text transform="translate(16.29,0) scale(0.860,1)" font-size="10.30">1</text></g>
<g transform="translate(682.7,207.2)" font-family="Liberation Serif" fill="#222222" stroke="#222222" stroke-width="0.5" text-anchor="middle"><text transform="translate(2.67,0) scale(0.860,1)" font-size="10.30">3</text><text transform="translate(8.00,0) scale(0.860,1)" font-size="10.30">3</text><text transform="translate(13.33,0) scale(0.860,1)" font-size="10.30">0</text></g>
<polygon points="662,254.8 689.4,254.8 675.8,267.8" fill="#0a0ae6"/>
<polyline points="663,268 689,268" fill="none" stroke="#303080" stroke-width="1.5" stroke-linejoin="miter" stroke-linecap="square"/>
<polyline points="693.3,268.1 701.2,275.4" fill="none" stroke="#2a2ab0" stroke-width="1.5" stroke-linejoin="miter" stroke-linecap="square"/>
<polygon points="703.2,277.4 697.2,275.9 701.7,271.4" fill="#2a2ab0"/>
<polyline points="688.2,273 696.3,280.9" fill="none" stroke="#2a2ab0" stroke-width="1.5" stroke-linejoin="miter" stroke-linecap="square"/>
<polygon points="698.3,282.9 692.3,281.4 696.8,276.9" fill="#2a2ab0"/>
<g transform="translate(694.8,258.8)" font-family="Liberation Serif" fill="#222222" stroke="#222222" stroke-width="0.5" text-anchor="middle"><text transform="translate(2.46,0) scale(0.648,1)" font-size="10.30">D</text><text transform="translate(9.84,0) scale(0.860,1)" font-size="10.30">1</text></g>
<g transform="translate(698.7,290.7)" font-family="Liberation Serif" fill="#222222" stroke="#222222" stroke-width="0.5" text-anchor="middle"><text transform="translate(2.75,0) scale(0.860,1)" font-size="10.30">2</text></g>
<polyline points="675.5,293 707.5,293" fill="none" stroke="#282828" stroke-width="1.5" stroke-linejoin="miter" stroke-linecap="square"/>
<circle cx="709" cy="293" r="2" fill="#fff" stroke="#c8c8c8" stroke-width="0.9"/>
<polygon points="713.8,280.5 764.5,305.6 713.8,330.4" fill="none" stroke="#2a2ab0" stroke-width="1.7"/>
<polyline points="720.3,292.9 726.3,292.9" fill="none" stroke="#2a2ab0" stroke-width="1.6" stroke-linejoin="miter" stroke-linecap="square"/>
<polyline points="720,318.4 726,318.4" fill="none" stroke="#2626c8" stroke-width="1.4" stroke-linejoin="miter" stroke-linecap="square"/>
<polyline points="723,315.4 723,321.4" fill="none" stroke="#2626c8" stroke-width="1.4" stroke-linejoin="miter" stroke-linecap="square"/>
<polyline points="738.8,128.5 738.8,210" fill="none" stroke="#2c2a7c" stroke-width="1.5" stroke-linejoin="miter" stroke-linecap="square"/>
<polyline points="738.8,210 738.8,293.3" fill="none" stroke="#282828" stroke-width="1.5" stroke-linejoin="miter" stroke-linecap="square"/>
<polyline points="738.8,281 738.8,293.3" fill="none" stroke="#2a2ab0" stroke-width="1.5" stroke-linejoin="miter" stroke-linecap="square"/>
<polyline points="739.3,318 739.3,368.8" fill="none" stroke="#282828" stroke-width="1.5" stroke-linejoin="miter" stroke-linecap="square"/>
<polyline points="739.3,318 739.3,355" fill="none" stroke="#2c2a7c" stroke-width="1.5" stroke-linejoin="miter" stroke-linecap="square"/>
<g transform="translate(745.6,290.3)" font-family="Liberation Serif" fill="#30307a" stroke="#30307a" stroke-width="0.5" text-anchor="middle"><text transform="translate(2.79,0) scale(0.734,1)" font-size="10.30">U</text><text transform="translate(11.14,0) scale(0.860,1)" font-size="10.30">1</text><text transform="translate(16.71,0) scale(0.734,1)" font-size="10.30">A</text></g>
<g transform="translate(776.3,303)" font-family="Liberation Serif" fill="#222222" stroke="#222222" stroke-width="0.5" text-anchor="middle"><text transform="translate(2.50,0) scale(0.860,1)" font-size="10.30">1</text></g>
<g transform="translate(745.6,328.6)" font-family="Liberation Serif" fill="#30307a" stroke="#30307a" stroke-width="0.5" text-anchor="middle"><text transform="translate(2.85,0) scale(0.808,1)" font-size="11.33">L</text><text transform="translate(9.41,0) scale(0.555,1)" font-size="11.33">M</text><text transform="translate(15.98,0) scale(0.860,1)" font-size="11.33">3</text><text transform="translate(24.54,0) scale(0.860,1)" font-size="11.33">9</text><text transform="translate(30.24,0) scale(0.860,1)" font-size="11.33">3</text><text transform="translate(35.95,0) scale(0.683,1)" font-size="11.33">D</text></g>
<g transform="translate(736,270.5) rotate(-90)" font-family="Liberation Serif" fill="#222222" stroke="#222222" stroke-width="0.5" text-anchor="middle"><text transform="translate(3.00,0) scale(0.860,1)" font-size="10.30">8</text></g>
<g transform="translate(737,346.5) rotate(-90)" font-family="Liberation Serif" fill="#222222" stroke="#222222" stroke-width="0.5" text-anchor="middle"><text transform="translate(2.50,0) scale(0.860,1)" font-size="8.24">4</text></g>
<polyline points="764.5,305.6 789.5,305.6 789.5,292.9" fill="none" stroke="#282828" stroke-width="1.5" stroke-linejoin="miter" stroke-linecap="square"/>
<polyline points="789.7,128.5 789.7,192.1" fill="none" stroke="#2c2a7c" stroke-width="1.5" stroke-linejoin="miter" stroke-linecap="square"/>
<polyline points="789.7,179.3 827.6,179.3 827.6,242.5" fill="none" stroke="#2c2a7c" stroke-width="1.5" stroke-linejoin="miter" stroke-linecap="square"/>
<polyline points="827.6,217 827.6,242.5" fill="none" stroke="#282828" stroke-width="1.5" stroke-linejoin="miter" stroke-linecap="square"/>
<rect x="784.5" y="192.1" width="10" height="24.599999999999994" fill="none" stroke="#2a2ab0" stroke-width="1.5"/>
<polyline points="789.5,216.7 789.5,267.7" fill="none" stroke="#282828" stroke-width="1.5" stroke-linejoin="miter" stroke-linecap="square"/>
<rect x="784.5" y="267.7" width="10" height="25.19999999999999" fill="none" stroke="#2a2ab0" stroke-width="1.5"/>
<polyline points="789.5,254.8 815.3,254.8" fill="none" stroke="#282828" stroke-width="1.5" stroke-linejoin="miter" stroke-linecap="square"/>
<polyline points="815.3,243.7 815.3,268.3" fill="none" stroke="#2a2ab0" stroke-width="1.8" stroke-linejoin="miter" stroke-linecap="square"/>
<polyline points="827.6,242.5 819,248.5" fill="none" stroke="#2a2ab0" stroke-width="1.5" stroke-linejoin="miter" stroke-linecap="square"/>
<polygon points="815.8,251 820.5,244.5 823.6,249.5" fill="#2a2ab0"/>
<polyline points="815.3,260 827.8,267.7" fill="none" stroke="#2a2ab0" stroke-width="1.7" stroke-linejoin="miter" stroke-linecap="square"/>
<polyline points="827.8,267.7 827.8,305.5" fill="none" stroke="#282828" stroke-width="1.5" stroke-linejoin="miter" stroke-linecap="square"/>
<polyline points="827.8,292.9 846.5,292.9 846.5,279.5" fill="none" stroke="#2c2a7c" stroke-width="1.5" stroke-linejoin="miter" stroke-linecap="square"/>
<rect x="822.2" y="305.5" width="10" height="24.899999999999977" fill="none" stroke="#2a2ab0" stroke-width="1.5"/>
<polyline points="846.5,179 846.5,254.8" fill="none" stroke="#2c2a7c" stroke-width="1.5" stroke-linejoin="miter" stroke-linecap="square"/>
<polyline points="846.5,241 846.5,254.8" fill="none" stroke="#282828" stroke-width="1.5" stroke-linejoin="miter" stroke-linecap="square"/>
<rect x="840.8" y="254.8" width="10" height="24.69999999999999" fill="none" stroke="#2a2ab0" stroke-width="1.5"/>
<g transform="translate(795,202)" font-family="Liberation Serif" fill="#222222" stroke="#222222" stroke-width="0.5" text-anchor="middle"><text transform="translate(2.71,0) scale(0.774,1)" font-size="10.30">R</text><text transform="translate(8.14,0) scale(0.860,1)" font-size="10.30">1</text><text transform="translate(16.29,0) scale(0.860,1)" font-size="10.30">3</text></g>
<g transform="translate(795,215.5)" font-family="Liberation Serif" fill="#222222" stroke="#222222" stroke-width="0.5" text-anchor="middle"><text transform="translate(2.83,0) scale(0.860,1)" font-size="10.30">1</text><text transform="translate(8.50,0) scale(0.860,1)" font-size="10.30">0</text><text transform="translate(14.17,0) scale(0.747,1)" font-size="10.30">K</text></g>
<g transform="translate(795.3,277.5)" font-family="Liberation Serif" fill="#222222" stroke="#222222" stroke-width="0.5" text-anchor="middle"><text transform="translate(2.71,0) scale(0.774,1)" font-size="10.30">R</text><text transform="translate(8.14,0) scale(0.860,1)" font-size="10.30">1</text><text transform="translate(16.29,0) scale(0.860,1)" font-size="10.30">4</text></g>
<g transform="translate(795.3,289.3)" font-family="Liberation Serif" fill="#222222" stroke="#222222" stroke-width="0.5" text-anchor="middle"><text transform="translate(2.83,0) scale(0.860,1)" font-size="10.30">1</text><text transform="translate(8.50,0) scale(0.860,1)" font-size="10.30">0</text><text transform="translate(14.17,0) scale(0.747,1)" font-size="10.30">K</text></g>
<g transform="translate(820,258.4)" font-family="Liberation Serif" fill="#222222" stroke="#222222" stroke-width="0.5" text-anchor="middle"><text transform="translate(2.80,0) scale(0.738,1)" font-size="10.30">Q</text><text transform="translate(11.20,0) scale(0.860,1)" font-size="10.30">5</text></g>
<g transform="translate(836.5,236.3) rotate(-90)" font-family="Liberation Serif" fill="#30307a" stroke="#30307a" stroke-width="0.5" text-anchor="middle"><text transform="translate(2.74,0) scale(0.860,1)" font-size="10.30">2</text><text transform="translate(8.22,0) scale(0.722,1)" font-size="10.30">N</text><text transform="translate(16.43,0) scale(0.860,1)" font-size="10.30">3</text><text transform="translate(21.91,0) scale(0.860,1)" font-size="10.30">9</text><text transform="translate(27.38,0) scale(0.860,1)" font-size="10.30">0</text><text transform="translate(32.86,0) scale(0.860,1)" font-size="10.30">6</text></g>
<g transform="translate(852,264.6)" font-family="Liberation Serif" fill="#222222" stroke="#222222" stroke-width="0.5" text-anchor="middle"><text transform="translate(2.71,0) scale(0.774,1)" font-size="10.30">R</text><text transform="translate(8.14,0) scale(0.860,1)" font-size="10.30">1</text><text transform="translate(16.29,0) scale(0.860,1)" font-size="10.30">6</text></g>
<g transform="translate(852,276)" font-family="Liberation Serif" fill="#222222" stroke="#222222" stroke-width="0.5" text-anchor="middle"><text transform="translate(2.75,0) scale(0.860,1)" font-size="10.30">1</text><text transform="translate(8.25,0) scale(0.725,1)" font-size="10.30">K</text></g>
<g transform="translate(833.7,314.9)" font-family="Liberation Serif" fill="#222222" stroke="#222222" stroke-width="0.5" text-anchor="middle"><text transform="translate(2.71,0) scale(0.774,1)" font-size="10.30">R</text><text transform="translate(8.14,0) scale(0.860,1)" font-size="10.30">1</text><text transform="translate(16.29,0) scale(0.860,1)" font-size="10.30">5</text></g>
<g transform="translate(833.7,327)" font-family="Liberation Serif" fill="#222222" stroke="#222222" stroke-width="0.5" text-anchor="middle"><text transform="translate(2.83,0) scale(0.860,1)" font-size="10.30">1</text><text transform="translate(8.50,0) scale(0.860,1)" font-size="10.30">0</text><text transform="translate(14.17,0) scale(0.747,1)" font-size="10.30">K</text></g>
<circle cx="120" cy="52.8" r="2.4" fill="#1a1670"/>
<circle cx="139" cy="52.8" r="2.4" fill="#1a1670"/>
<circle cx="177" cy="90.5" r="2.4" fill="#1a1670"/>
<circle cx="353" cy="53" r="2.4" fill="#1a1670"/>
<circle cx="379" cy="53" r="2.4" fill="#1a1670"/>
<circle cx="379" cy="90.5" r="2.4" fill="#1a1670"/>
<circle cx="120" cy="141.2" r="2.4" fill="#1a1670"/>
<circle cx="151.7" cy="141.2" r="2.4" fill="#1a1670"/>
<circle cx="151.7" cy="204.3" r="2.4" fill="#1a1670"/>
<circle cx="151.5" cy="255" r="2.4" fill="#1a1670"/>
<circle cx="151.5" cy="317.5" r="2.4" fill="#1a1670"/>
<circle cx="366.3" cy="141.3" r="2.4" fill="#1a1670"/>
<circle cx="353.8" cy="255" r="2.4" fill="#1a1670"/>
<circle cx="435.5" cy="2.5" r="2.4" fill="#1a1670"/>
<circle cx="518.5" cy="2.5" r="2.4" fill="#1a1670"/>
<circle cx="556" cy="2.5" r="2.4" fill="#1a1670"/>
<circle cx="467.5" cy="103.2" r="2.4" fill="#1a1670"/>
<circle cx="897.3" cy="103.2" r="2.6" fill="#7a1a1a"/>
<circle cx="897.3" cy="115.5" r="2.6" fill="#7a1a1a"/>
<circle cx="897.3" cy="128.5" r="2.6" fill="#7a1a1a"/>
<circle cx="897.3" cy="141.3" r="2.6" fill="#7a1a1a"/>
<circle cx="897.3" cy="153.9" r="2.6" fill="#7a1a1a"/>
<circle cx="897.3" cy="166.6" r="2.6" fill="#7a1a1a"/>
<circle cx="897.3" cy="179" r="2.6" fill="#7a1a1a"/>
<circle cx="505.3" cy="153.9" r="2.4" fill="#1a1670"/>
<circle cx="556" cy="141.3" r="2.4" fill="#1a1670"/>
<circle cx="505.3" cy="229.5" r="2.4" fill="#1a1670"/>
<circle cx="441.7" cy="267.4" r="2.4" fill="#1a1670"/>
<circle cx="467.6" cy="267.4" r="2.4" fill="#1a1670"/>
<circle cx="594.2" cy="128.5" r="2.4" fill="#1a1670"/>
<circle cx="594.2" cy="204.6" r="2.4" fill="#1a1670"/>
<circle cx="613.2" cy="204.6" r="2.4" fill="#1a1670"/>
<circle cx="594.2" cy="286.6" r="2.4" fill="#1a1670"/>
<circle cx="613.2" cy="286.6" r="2.4" fill="#1a1670"/>
<circle cx="651.1" cy="305.8" r="2.4" fill="#1a1670"/>
<circle cx="593.8" cy="368.8" r="2.4" fill="#1a1670"/>
<circle cx="625.6" cy="368.8" r="2.4" fill="#1a1670"/>
<circle cx="651.1" cy="368.8" r="2.4" fill="#1a1670"/>
<circle cx="676" cy="368.8" r="2.4" fill="#1a1670"/>
<circle cx="739.3" cy="368.8" r="2.4" fill="#1a1670"/>
<circle cx="556" cy="368.8" r="2.4" fill="#1a1670"/>
<circle cx="676.3" cy="154" r="2.4" fill="#1a1670"/>
<circle cx="675.5" cy="293" r="2.4" fill="#1a1670"/>
<circle cx="738.8" cy="128.5" r="2.4" fill="#1a1670"/>
<circle cx="789.7" cy="128.5" r="2.4" fill="#1a1670"/>
<circle cx="789.7" cy="179.3" r="2.4" fill="#1a1670"/>
<circle cx="789.5" cy="254.8" r="2.4" fill="#1a1670"/>
<circle cx="827.8" cy="292.9" r="2.4" fill="#1a1670"/>
</svg>
</body></html>
